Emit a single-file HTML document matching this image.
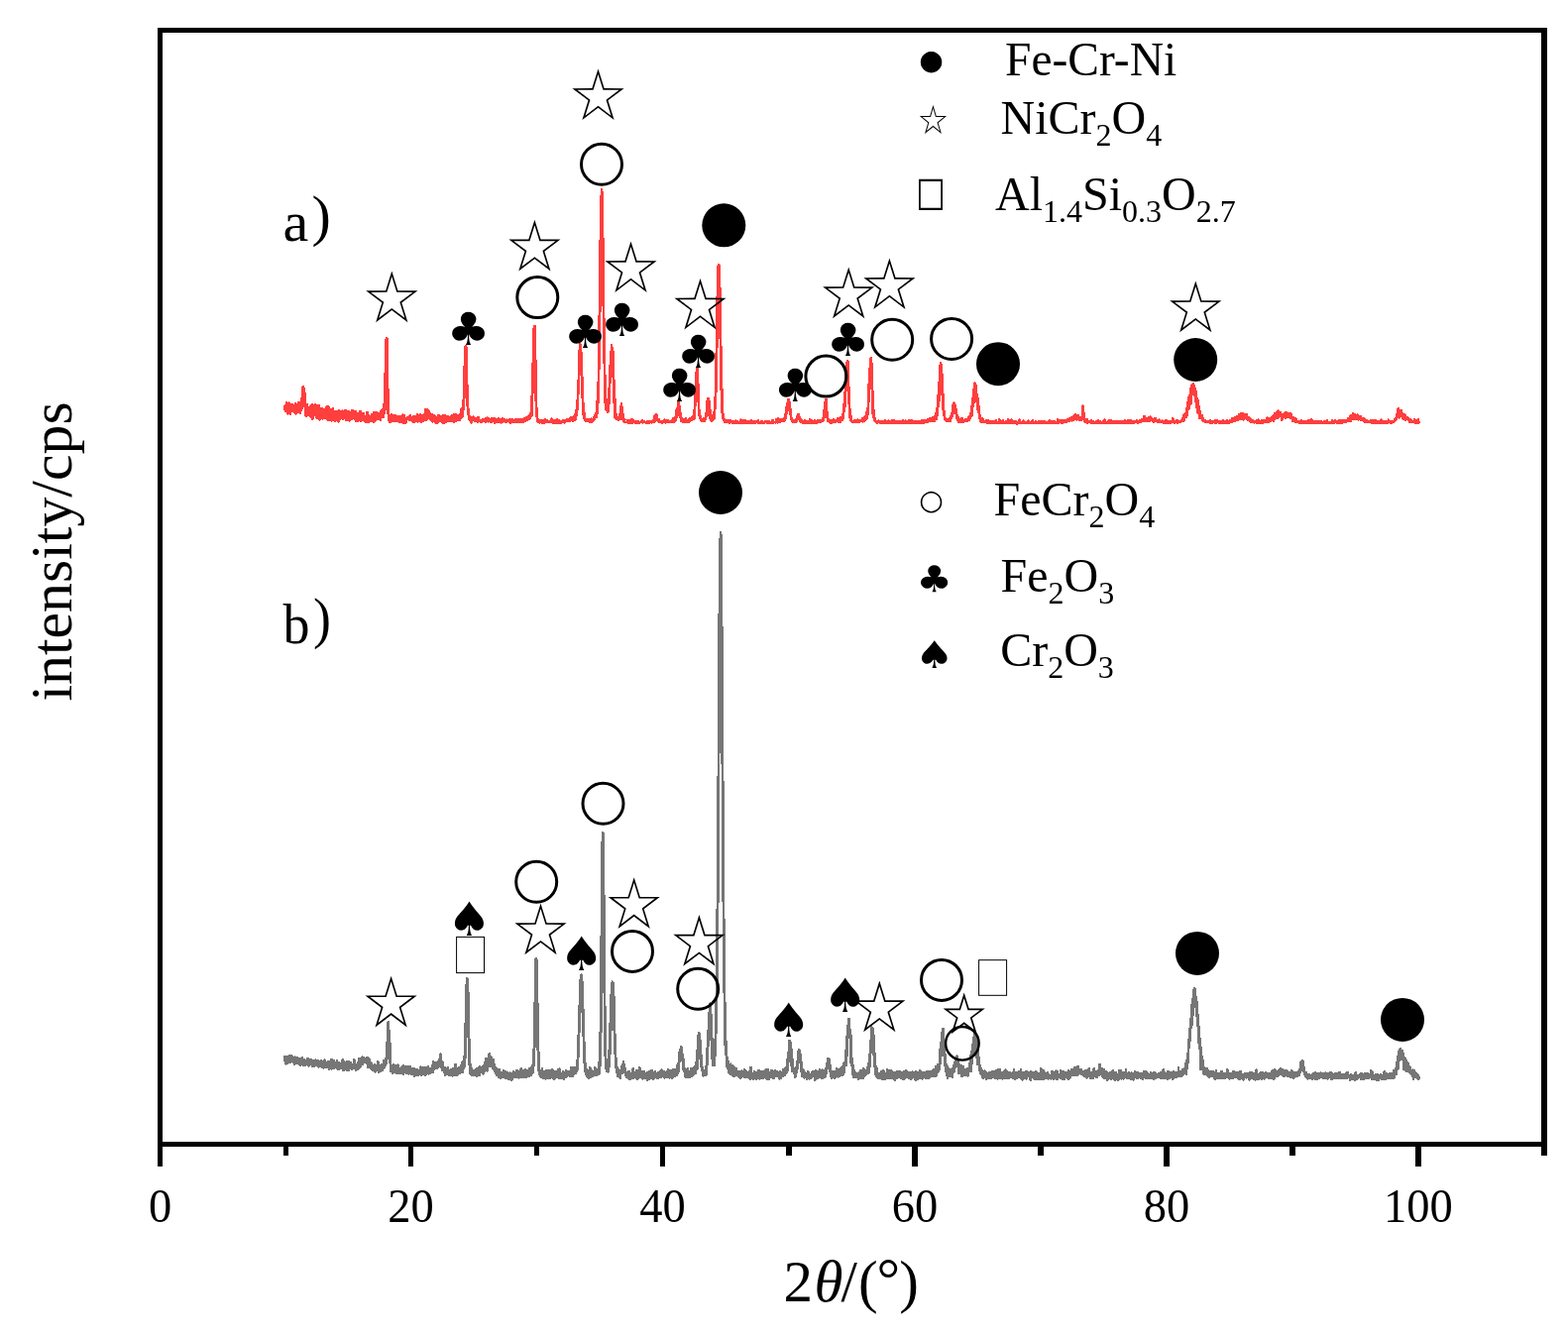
<!DOCTYPE html>
<html lang="en"><head><meta charset="utf-8"><title>XRD patterns</title>
<style>html,body{margin:0;padding:0;background:#fff;overflow:hidden}svg{display:block}text{font-family:"Liberation Serif","DejaVu Serif",serif;fill:#000}.sym{font-family:"DejaVu Sans","Liberation Sans",sans-serif}</style></head><body>
<svg width="1582" height="1348" viewBox="0 0 1582 1348">
<rect x="0" y="0" width="1582" height="1348" fill="#fff"/>
<path d="M287.5,409.8 288,410.4 288.5,409.1 289,406.2 289.5,409.3 290,408 290.5,409.8 291,409.8 291.5,406.5 292,406.5 292.5,411.9 293,411.4 293.5,409.3 294,413 294.5,407.7 295,407.7 295.5,409.8 296,409 296.5,411.5 297,410.6 297.5,410.1 298,406.6 298.5,411.9 299,407.6 299.5,409.5 300,409.5 300.5,408.8 301,408.3 301.5,405.8 302,405.8 302.5,405.8 303,407.7 303.5,407.7 304,405.6 304.5,402.3 305,398.6 305.5,390.4 306,390.4 306.5,391.2 307,394.9 307.5,396.8 308,408 308.5,409.5 309,413.4 309.5,408.2 310,408.2 310.5,412.5 311,412.5 311.5,411 312,411.8 312.5,411.8 313,410.9 313.5,409.2 314,409.9 314.5,408 315,408 315.5,413.6 316,409.4 316.5,409.4 317,416.2 317.5,408 318,408 318.5,408.9 319,408.9 319.5,413.4 320,415.4 320.5,408.7 321,408.6 321.5,408.6 322,414.3 322.5,416.1 323,414.2 323.5,411.8 324,411.8 324.5,413 325,412.2 325.5,413.2 326,412.8 326.5,412.8 327,414.3 327.5,413.2 328,413.2 328.5,413.1 329,411.9 329.5,410.4 330,410.4 330.5,409.6 331,409.6 331.5,410.9 332,410.9 332.5,413.8 333,413.4 333.5,413.4 334,418 334.5,415.9 335,414.8 335.5,412.1 336,412.1 336.5,414.3 337,415.3 337.5,415.3 338,415.8 338.5,415.8 339,415.3 339.5,415.3 340,414.8 340.5,414.8 341,415.5 341.5,415.5 342,414.3 342.5,414 343,417 343.5,415.8 344,415.8 344.5,417.3 345,417.5 345.5,414.5 346,418.6 346.5,417.3 347,417.3 347.5,417.4 348,416.3 348.5,413.8 349,413.8 349.5,417.9 350,416.1 350.5,415.1 351,415 351.5,415 352,415.1 352.5,415.1 353,415.5 353.5,419.4 354,417.2 354.5,417.1 355,415.4 355.5,413.6 356,413.6 356.5,413.9 357,416.3 357.5,416.9 358,414.8 358.5,414.8 359,420 359.5,418 360,418 360.5,418.6 361,418.6 361.5,416.9 362,416.9 362.5,419.1 363,418.2 363.5,414.8 364,417.6 364.5,418 365,417 365.5,419.2 366,420.2 366.5,416.7 367,417.9 367.5,420.7 368,420.7 368.5,421.5 369,422.1 369.5,420.2 370,415.6 370.5,415.6 371,421.2 371.5,419 372,419 372.5,420.2 373,420.2 373.5,422.2 374,421.8 374.5,420.8 375,418.9 375.5,417.8 376,419 376.5,419.8 377,416 377.5,420 378,416.5 378.5,416.5 379,418.8 379.5,416.4 380,416.4 380.5,416.6 381,416.6 381.5,418 382,418 382.5,419.2 383,417.1 383.5,418.3 384,418.3 384.5,413.9 385,413.9 385.5,416.5 386,413 386.5,413 387,412.4 387.5,408.7 388,403.5 388.5,383.2 389,354.4 389.5,342 390,341.1 390.5,341.1 391,371 391.5,396.6 392,411.8 392.5,421 393,420.7 393.5,419.5 394,419.5 394.5,419.4 395,418.2 395.5,418.2 396,421.4 396.5,419.9 397,419.5 397.5,420.1 398,420.1 398.5,419 399,419 399.5,419.7 400,421.1 400.5,421.7 401,421.6 401.5,421.6 402,420.1 402.5,420.1 403,420.6 403.5,420.1 404,419.8 404.5,419.9 405,420.5 405.5,419.6 406,419.6 406.5,418.3 407,420.7 407.5,419.9 408,419.1 408.5,421.7 409,421.7 409.5,421.6 410,421.6 410.5,421.6 411,421.5 411.5,421 412,420.8 412.5,420.8 413,420.4 413.5,420.4 414,419.2 414.5,420.3 415,421.6 415.5,422.2 416,422.7 416.5,420.2 417,420.2 417.5,423.6 418,421.1 418.5,421.1 419,420.2 419.5,420.2 420,420.9 420.5,419.9 421,418.2 421.5,418.2 422,423.6 422.5,421.3 423,420.1 423.5,420.1 424,417.9 424.5,419.2 425,419.2 425.5,421.9 426,419.3 426.5,420 427,420 427.5,420.1 428,417.6 428.5,417.6 429,415.5 429.5,412.7 430,412.7 430.5,412.8 431,413.2 431.5,413.2 432,415 432.5,414.3 433,416.5 433.5,416.5 434,419.8 434.5,416.9 435,419.8 435.5,418.1 436,418.1 436.5,420.6 437,420.3 437.5,418.8 438,418.8 438.5,421.7 439,420.3 439.5,420.3 440,420.8 440.5,420.8 441,420.5 441.5,420.5 442,420.3 442.5,418.8 443,418.8 443.5,420.3 444,420.1 444.5,420.1 445,421.4 445.5,422.3 446,422.5 446.5,419.2 447,419.2 447.5,421.7 448,422 448.5,422 449,419 449.5,422.4 450,422.4 450.5,420.4 451,420.4 451.5,419.9 452,419.9 452.5,422 453,422.5 453.5,421.5 454,421.2 454.5,421.2 455,420.3 455.5,420.2 456,418.9 456.5,418.9 457,418.5 457.5,418.2 458,418.4 458.5,420.3 459,420.4 459.5,422.4 460,417.8 460.5,419 461,419.2 461.5,419.2 462,420.5 462.5,419.2 463,419.2 463.5,420 464,418.9 464.5,417.9 465,416.9 465.5,412.6 466,411.8 466.5,411.8 467,410.8 467.5,408.7 468,385.6 468.5,372.1 469,358.4 469.5,349 470,349 470.5,350.4 471,368.3 471.5,392 472,406.3 472.5,413.1 473,418.4 473.5,419.7 474,420.8 474.5,420.8 475,421.4 475.5,422.7 476,422.7 476.5,421.8 477,421.3 477.5,420.5 478,422 478.5,422.3 479,422.7 479.5,422.7 480,422.4 480.5,422.4 481,422.5 481.5,421.2 482,421.2 482.5,423.4 483,420.6 483.5,423.3 484,423.6 484.5,423.6 485,423.7 485.5,423.7 486,423.6 486.5,423.8 487,423.8 487.5,422.8 488,423.4 488.5,422.9 489,422.9 489.5,422.5 490,423.1 490.5,423.3 491,423 491.5,421.3 492,423.3 492.5,423.1 493,423.1 493.5,422.4 494,423 494.5,423.5 495,422.7 495.5,423.8 496,422 496.5,422 497,422.4 497.5,423.1 498,422.4 498.5,422.4 499,422.4 499.5,422.4 500,423.1 500.5,423.1 501,424.3 501.5,423.2 502,424.3 502.5,423.2 503,422.2 503.5,422.2 504,423.1 504.5,423.1 505,423.7 505.5,423.8 506,423.6 506.5,422.7 507,422.1 507.5,423.1 508,423.1 508.5,423 509,422.5 509.5,423.6 510,423.9 510.5,423.6 511,423.6 511.5,423.4 512,423.8 512.5,424.2 513,423.8 513.5,423.8 514,423.3 514.5,423.3 515,423.7 515.5,423.7 516,422.7 516.5,422.7 517,424.6 517.5,423.8 518,423.8 518.5,423.9 519,423.7 519.5,423.4 520,422.9 520.5,422.9 521,424.4 521.5,423.2 522,423.1 522.5,423.1 523,423 523.5,422.9 524,422.9 524.5,424.1 525,423.1 525.5,423.1 526,423.5 526.5,423.5 527,423.1 527.5,423.1 528,423.1 528.5,422.1 529,421.8 529.5,421.8 530,422.8 530.5,423.2 531,422.4 531.5,420.8 532,420.8 532.5,420.1 533,420.3 533.5,420.9 534,419 534.5,419 535,418.6 535.5,416.3 536,414.9 536.5,402.5 537,390 537.5,371.2 538,346.8 538.5,331.3 539,328.6 539.5,328.6 540,343.5 540.5,367.8 541,395 541.5,413.8 542,416.7 542.5,422.8 543,423.1 543.5,423.1 544,423.9 544.5,423.9 545,424.5 545.5,424.9 546,424.9 546.5,424.5 547,424.2 547.5,424.2 548,424.3 548.5,424.3 549,425.1 549.5,423.1 550,423.1 550.5,423.7 551,424.9 551.5,425.4 552,425.3 552.5,424.5 553,424.5 553.5,424.9 554,425.3 554.5,425 555,425.2 555.5,425.1 556,425.1 556.5,422.5 557,422.5 557.5,425.8 558,425.6 558.5,423.7 559,423.7 559.5,424.7 560,424.4 560.5,424.4 561,425.3 561.5,423.2 562,423.2 562.5,424.9 563,424.9 563.5,423.9 564,423.9 564.5,425.4 565,425.8 565.5,425 566,425 566.5,425.8 567,424.7 567.5,424.7 568,423.8 568.5,423.8 569,424.8 569.5,424.1 570,424.1 570.5,424.4 571,423.7 571.5,423.4 572,423.6 572.5,423 573,423.6 573.5,423.3 574,423.8 574.5,423.6 575,422.7 575.5,421.4 576,421.1 576.5,422.2 577,421.6 577.5,421.6 578,421.1 578.5,421.1 579,420.7 579.5,419.4 580,419.8 580.5,417.7 581,416 581.5,414.4 582,409 582.5,406 583,393.8 583.5,387.1 584,370.1 584.5,354.3 585,347.2 585.5,347.2 586,352.5 586.5,356 587,368.3 587.5,381.9 588,394.8 588.5,407.8 589,410.3 589.5,417.5 590,421 590.5,422.9 591,423.5 591.5,423.5 592,424.1 592.5,424.1 593,422.7 593.5,422.7 594,424 594.5,423.1 595,422.9 595.5,423 596,423.8 596.5,422.6 597,423.3 597.5,422.6 598,422.6 598.5,422.6 599,420.7 599.5,421.3 600,420.1 600.5,418.7 601,418.3 601.5,417.4 602,412.8 602.5,406.4 603,398 603.5,390.2 604,368.7 604.5,323.5 605,299.8 605.5,249.2 606,217.9 606.5,198.9 607,191 607.5,194.1 608,217.6 608.5,245 609,283.9 609.5,328.6 610,355.9 610.5,382.8 611,396.7 611.5,403.4 612,406.2 612.5,406.2 613,410.1 613.5,404.2 614,400.2 614.5,393 615,384.1 615.5,368.5 616,366.2 616.5,355.2 617,348.2 617.5,350.3 618,354.5 618.5,354.5 619,370 619.5,385.8 620,395.1 620.5,403.1 621,412 621.5,418.3 622,420.2 622.5,421.2 623,421.2 623.5,421.4 624,421.4 624.5,421.8 625,421.4 625.5,418 626,412.5 626.5,410 627,406.9 627.5,411 628,412.2 628.5,417.9 629,420.7 629.5,422.6 630,422.6 630.5,425.7 631,424.4 631.5,424.5 632,424.5 632.5,425.7 633,425.6 633.5,423.6 634,423.6 634.5,425.8 635,424.9 635.5,424.9 636,425.3 636.5,423.5 637,422.9 637.5,422.9 638,424.5 638.5,425.7 639,425.3 639.5,424.5 640,424.5 640.5,425.5 641,425.2 641.5,425.2 642,425.5 642.5,425.5 643,424.7 643.5,424.7 644,426 644.5,426 645,426 645.5,425.8 646,425.5 646.5,425.4 647,425.3 647.5,425 648,423.7 648.5,425.9 649,425.1 649.5,425.1 650,425.4 650.5,425.5 651,425.6 651.5,425.7 652,425.6 652.5,425.3 653,425.8 653.5,425.3 654,425.3 654.5,425.9 655,424.9 655.5,424.9 656,425.7 656.5,425.6 657,425.5 657.5,425.3 658,425.1 658.5,424.3 659,424.5 659.5,423.4 660,421.1 660.5,419.4 661,419.4 661.5,418.6 662,417.6 662.5,419.2 663,419.2 663.5,422.4 664,423.6 664.5,423.4 665,423.4 665.5,424.7 666,424.7 666.5,424.7 667,425.3 667.5,425.3 668,425.7 668.5,425.6 669,424.7 669.5,424.7 670,425.1 670.5,423 671,425.6 671.5,425.7 672,425.7 672.5,424.2 673,424.2 673.5,424 674,424 674.5,424.4 675,424.8 675.5,424.8 676,424.6 676.5,424.6 677,424.6 677.5,424.6 678,424.8 678.5,424 679,422.2 679.5,422.2 680,424.6 680.5,423.2 681,423.2 681.5,420.9 682,419.5 682.5,413.5 683,412.8 683.5,412.1 684,406.8 684.5,405.8 685,405.8 685.5,409.5 686,415.7 686.5,415.9 687,419.4 687.5,422.9 688,423.3 688.5,422.5 689,424.8 689.5,423.3 690,423.3 690.5,425.3 691,425 691.5,425 692,422.1 692.5,425.1 693,424.2 693.5,423.9 694,423.8 694.5,423.8 695,424 695.5,422.1 696,422.1 696.5,423.1 697,423.1 697.5,422.1 698,421.5 698.5,420.6 699,420 699.5,419.6 700,417.3 700.5,415.1 701,405.2 701.5,395 702,383.5 702.5,376.2 703,371.5 703.5,371.5 704,373.7 704.5,389.3 705,398.5 705.5,415.8 706,417.1 706.5,419.9 707,421.4 707.5,423.6 708,422.8 708.5,423.2 709,423.7 709.5,423.4 710,422.8 710.5,421.8 711,422.3 711.5,421.9 712,418.6 712.5,417.6 713,410.6 713.5,404.3 714,401.9 714.5,401.8 715,401.8 715.5,404.8 716,404.8 716.5,414.6 717,418.8 717.5,418.8 718,422 718.5,422 719,422 719.5,420.7 720,418.8 720.5,417 721,408.7 721.5,402.8 722,390.8 722.5,360.9 723,341.7 723.5,303.9 724,283 724.5,268.5 725,267.3 725.5,267.3 726,272.6 726.5,293.6 727,332.2 727.5,352.2 728,379.1 728.5,394.4 729,414.3 729.5,417.5 730,419.4 730.5,422.4 731,424 731.5,424.1 732,424.4 732.5,423.8 733,423.8 733.5,425.6 734,424.1 734.5,425.3 735,425.3 735.5,425.6 736,423.8 736.5,423.8 737,425.5 737.5,425.6 738,425.6 738.5,425.8 739,424.7 739.5,424.7 740,425 740.5,425 741,424.9 741.5,424.9 742,425.1 742.5,425.6 743,424.5 743.5,425.1 744,425.4 744.5,425.4 745,425.8 745.5,425.8 746,426.1 746.5,425.7 747,425.7 747.5,423.2 748,425.8 748.5,425 749,424.5 749.5,424.5 750,426 750.5,425.8 751,425.8 751.5,423.7 752,425.1 752.5,425.1 753,425.6 753.5,426.1 754,424.9 754.5,425.3 755,425.3 755.5,426 756,425.1 756.5,425.1 757,424.9 757.5,424.3 758,424.3 758.5,425 759,425 759.5,425.6 760,425.2 760.5,425.2 761,424.8 761.5,424.8 762,426.1 762.5,425.8 763,425.2 763.5,424.7 764,426 764.5,423.9 765,423.9 765.5,426.4 766,426 766.5,426.1 767,425.9 767.5,425.5 768,425.5 768.5,426.4 769,425.3 769.5,425.1 770,425.7 770.5,426.4 771,425.5 771.5,425.4 772,425.1 772.5,425.1 773,425.5 773.5,425.9 774,424.7 774.5,425.9 775,426.1 775.5,425.8 776,425 776.5,425 777,425.7 777.5,425.7 778,425.6 778.5,425.6 779,424.2 779.5,425.2 780,423.8 780.5,425.8 781,425.8 781.5,425.8 782,425.8 782.5,425.3 783,423.5 783.5,424.8 784,422.5 784.5,422.5 785,421.9 785.5,424.8 786,424.6 786.5,423.5 787,423.5 787.5,423.4 788,423.4 788.5,424.4 789,424.1 789.5,424.1 790,424.3 790.5,422.8 791,422.5 791.5,422.3 792,419 792.5,417.5 793,414 793.5,411 794,407.8 794.5,407.8 795,402.8 795.5,402.8 796,404.1 796.5,405.2 797,410.2 797.5,412.9 798,417 798.5,422 799,422 799.5,423.5 800,424.6 800.5,424.7 801,424.7 801.5,425.1 802,424.4 802.5,423.3 803,423.2 803.5,422.6 804,420.9 804.5,420 805,418 805.5,418 806,418.3 806.5,420.3 807,421.3 807.5,423.1 808,423.1 808.5,424.6 809,424.1 809.5,425.4 810,425.1 810.5,425.1 811,426 811.5,426 812,424.4 812.5,424.4 813,426 813.5,425.4 814,425.4 814.5,425.6 815,425.7 815.5,425 816,425 816.5,425.1 817,423.3 817.5,425.8 818,423.8 818.5,423.8 819,425.6 819.5,425.6 820,425.7 820.5,425.8 821,425.2 821.5,425.2 822,424.2 822.5,425.6 823,425.6 823.5,424.9 824,425.8 824.5,425.2 825,424.8 825.5,423.7 826,423.7 826.5,424.3 827,423.9 827.5,424.2 828,423.7 828.5,423.8 829,423.6 829.5,423.6 830,421.8 830.5,421.1 831,420.4 831.5,413.2 832,412.9 832.5,405.5 833,402.7 833.5,402.7 834,405.5 834.5,416.8 835,418.6 835.5,423.3 836,424.4 836.5,424.5 837,424.6 837.5,425.1 838,423.9 838.5,423.9 839,424.5 839.5,424.8 840,424.9 840.5,425 841,423.4 841.5,423.4 842,425 842.5,424.3 843,424.3 843.5,424.6 844,424 844.5,423.9 845,421.6 845.5,421.6 846,422 846.5,422 847,422.5 847.5,421.4 848,421.4 848.5,420.6 849,420.6 849.5,420.6 850,418.8 850.5,417.4 851,413.4 851.5,409.4 852,400.8 852.5,398.4 853,383.1 853.5,369.7 854,365.5 854.5,368.1 855,364.3 855.5,364.3 856,384.2 856.5,391.7 857,403.7 857.5,414.1 858,417.2 858.5,419.6 859,422.2 859.5,424.7 860,424.6 860.5,424.6 861,424.6 861.5,424.8 862,424.8 862.5,423.7 863,423.7 863.5,424.6 864,424.6 864.5,425.2 865,425.1 865.5,423.1 866,423.9 866.5,424.8 867,424.9 867.5,424.2 868,424.3 868.5,424.6 869,423.9 869.5,423.5 870,422.4 870.5,422.2 871,422.7 871.5,422.5 872,422.3 872.5,420.7 873,421.6 873.5,419.2 874,419.2 874.5,415.8 875,413.6 875.5,413.6 876,402.7 876.5,388.1 877,383.3 877.5,372.7 878,367.6 878.5,360.9 879,360.9 879.5,366.8 880,378.8 880.5,397.6 881,407.3 881.5,413.8 882,420.6 882.5,421.7 883,423.5 883.5,425.1 884,425.7 884.5,424.6 885,424.6 885.5,425.4 886,425.1 886.5,424.6 887,425.5 887.5,425.6 888,425.8 888.5,426.2 889,425.1 889.5,425.1 890,425.9 890.5,425.9 891,424.7 891.5,424.7 892,425.8 892.5,424.7 893,423.9 893.5,424.9 894,424.9 894.5,425.4 895,425 895.5,425 896,425.9 896.5,424.5 897,425.5 897.5,425.2 898,425.2 898.5,425.1 899,426.1 899.5,425.4 900,425.4 900.5,423.9 901,425.4 901.5,424.3 902,424.3 902.5,425.3 903,425.6 903.5,425.4 904,425.4 904.5,426 905,426.2 905.5,425.4 906,425.7 906.5,425.7 907,425.5 907.5,424.8 908,424.8 908.5,425.7 909,425.6 909.5,425.8 910,425.8 910.5,424.4 911,424.4 911.5,425.3 912,425.3 912.5,425.4 913,426.1 913.5,424.2 914,425.8 914.5,426.1 915,425.4 915.5,425 916,425.4 916.5,424.5 917,424.5 917.5,424 918,425.1 918.5,426.1 919,423.9 919.5,423.9 920,425.5 920.5,424.7 921,424.7 921.5,425.5 922,425.5 922.5,425.6 923,425.6 923.5,425.4 924,425.4 924.5,425.2 925,424.9 925.5,426.1 926,425 926.5,425 927,424.6 927.5,424.6 928,425.7 928.5,425.7 929,425.4 929.5,424.3 930,424.3 930.5,425.6 931,425.6 931.5,425 932,423.9 932.5,423.9 933,424 933.5,425 934,425 934.5,425.1 935,424.3 935.5,424.2 936,424.2 936.5,422.8 937,422.8 937.5,424.1 938,422.8 938.5,421.8 939,421.8 939.5,422.5 940,422.7 940.5,421.3 941,421.3 941.5,422.2 942,421.9 942.5,421.9 943,421.9 943.5,419.7 944,419.7 944.5,416.6 945,413.2 945.5,412.2 946,408.4 946.5,400.5 947,391.9 947.5,389.4 948,370.5 948.5,368.4 949,366.3 949.5,367.3 950,370.1 950.5,379 951,390.4 951.5,398.2 952,410.3 952.5,414.7 953,416.4 953.5,421.6 954,422.7 954.5,422.7 955,423.1 955.5,423.7 956,423.5 956.5,422.7 957,423 957.5,422.2 958,422.2 958.5,423.8 959,420.1 959.5,420.1 960,417.7 960.5,417.3 961,413.9 961.5,408.6 962,407.7 962.5,406.5 963,407 963.5,408.3 964,410 964.5,412.9 965,413.7 965.5,418.9 966,418.9 966.5,420.3 967,423.2 967.5,423.2 968,423.3 968.5,423.3 969,424 969.5,424 970,424.4 970.5,421.8 971,423.3 971.5,423.3 972,424.1 972.5,423.9 973,423.9 973.5,424.2 974,423.4 974.5,423.5 975,423.2 975.5,422.9 976,422.8 976.5,422.8 977,421.4 977.5,420.6 978,420.4 978.5,420.3 979,416.8 979.5,416.9 980,415.1 980.5,410.6 981,402.5 981.5,402.5 982,394.4 982.5,392 983,391.7 983.5,386.4 984,387.4 984.5,388.5 985,391.5 985.5,397.7 986,399.1 986.5,402 987,402 987.5,410.5 988,413.8 988.5,419.3 989,419.3 989.5,421.6 990,423.7 990.5,423.4 991,422.5 991.5,422.5 992,425.2 992.5,424.9 993,425.6 993.5,425.8 994,424.8 994.5,424.8 995,424 995.5,425.3 996,425.3 996.5,425.3 997,424 997.5,424 998,424.9 998.5,424.9 999,425.5 999.5,425.5 1000,425.8 1000.5,426 1001,425.2 1001.5,425.1 1002,425.1 1002.5,425.4 1003,424.8 1003.5,424.8 1004,424.8 1004.5,424.2 1005,424.2 1005.5,426.4 1006,426.1 1006.5,426.1 1007,426.1 1007.5,426.1 1008,423.3 1008.5,423.3 1009,425.8 1009.5,425.2 1010,425.2 1010.5,425.7 1011,426 1011.5,425.9 1012,424.4 1012.5,425.6 1013,426.3 1013.5,426 1014,426.1 1014.5,425.2 1015,425.2 1015.5,426 1016,425.7 1016.5,426 1017,423 1017.5,423 1018,426.3 1018.5,426.2 1019,426 1019.5,426 1020,425.4 1020.5,423.3 1021,424.6 1021.5,424.9 1022,425.7 1022.5,425.7 1023,425.5 1023.5,424.6 1024,424.6 1024.5,425.4 1025,425.4 1025.5,426 1026,426 1026.5,426.3 1027,426 1027.5,425.7 1028,423.5 1028.5,423.5 1029,424.7 1029.5,426.1 1030,425.8 1030.5,425.8 1031,425.9 1031.5,425.8 1032,425.5 1032.5,424.5 1033,424.5 1033.5,425.7 1034,425.7 1034.5,425.7 1035,425.7 1035.5,425.7 1036,426.1 1036.5,426 1037,425 1037.5,424.5 1038,424.5 1038.5,425 1039,426.1 1039.5,425.7 1040,425.7 1040.5,426 1041,425 1041.5,425 1042,424.3 1042.5,425.5 1043,425.6 1043.5,426.3 1044,425.8 1044.5,425.4 1045,425.4 1045.5,425.5 1046,425.5 1046.5,425.9 1047,425.5 1047.5,425.5 1048,425.7 1048.5,425.6 1049,425.2 1049.5,425.2 1050,425.3 1050.5,425 1051,426.1 1051.5,424.8 1052,424.8 1052.5,425.6 1053,425.6 1053.5,425.1 1054,425.1 1054.5,425.1 1055,425.7 1055.5,425.8 1056,425.7 1056.5,425.9 1057,425.9 1057.5,426.2 1058,426.2 1058.5,424.4 1059,424.4 1059.5,425 1060,425.4 1060.5,425.6 1061,426.3 1061.5,425.2 1062,425.2 1062.5,426.4 1063,424.9 1063.5,425.1 1064,425.1 1064.5,425.1 1065,426 1065.5,426 1066,426.2 1066.5,426.2 1067,423.2 1067.5,423.2 1068,424.8 1068.5,424.8 1069,425 1069.5,423.9 1070,424.6 1070.5,425.5 1071,425.7 1071.5,424.4 1072,425.3 1072.5,424.2 1073,424.6 1073.5,424.6 1074,424.4 1074.5,424.4 1075,424.9 1075.5,424.1 1076,424.1 1076.5,424.8 1077,423 1077.5,423 1078,423 1078.5,423 1079,423.1 1079.5,421.9 1080,421.9 1080.5,422.1 1081,421.4 1081.5,422.3 1082,422.2 1082.5,420.8 1083,420.6 1083.5,420 1084,420 1084.5,418 1085,418 1085.5,419.6 1086,420.4 1086.5,419.9 1087,418.9 1087.5,418.9 1088,419.9 1088.5,421 1089,420.7 1089.5,420.7 1090,421.7 1090.5,421.9 1091,421.7 1091.5,421.4 1092,414.1 1092.5,409.5 1093,411.4 1093.5,417.1 1094,421.5 1094.5,422.5 1095,423 1095.5,423 1096,423.9 1096.5,423.3 1097,423.3 1097.5,424.5 1098,424.5 1098.5,424.9 1099,424.8 1099.5,424.8 1100,425.5 1100.5,424.1 1101,424.1 1101.5,425.2 1102,425.2 1102.5,425.7 1103,425.3 1103.5,425.3 1104,426.1 1104.5,425.8 1105,425.8 1105.5,425.9 1106,425.3 1106.5,425.3 1107,424.7 1107.5,425.2 1108,423.7 1108.5,426.2 1109,425.5 1109.5,425.1 1110,425.9 1110.5,425.6 1111,425.7 1111.5,425.6 1112,425.6 1112.5,425.9 1113,425.3 1113.5,425.3 1114,424.1 1114.5,423.5 1115,423.5 1115.5,426.4 1116,426 1116.5,425.6 1117,425.6 1117.5,426.2 1118,426.4 1118.5,424.4 1119,424.4 1119.5,424.5 1120,426.2 1120.5,426.3 1121,424.1 1121.5,425.2 1122,425.2 1122.5,425.2 1123,425.7 1123.5,424.9 1124,424.9 1124.5,426.1 1125,426.1 1125.5,424.7 1126,424.7 1126.5,424.8 1127,426 1127.5,425.8 1128,425.7 1128.5,425.8 1129,425.4 1129.5,425.4 1130,425.1 1130.5,424.8 1131,424.8 1131.5,425.7 1132,426.1 1132.5,426.1 1133,426.1 1133.5,424.8 1134,424.8 1134.5,426 1135,424.1 1135.5,425 1136,424.6 1136.5,424.6 1137,425.7 1137.5,424 1138,424 1138.5,425.7 1139,424.7 1139.5,424.7 1140,424 1140.5,423.8 1141,423.8 1141.5,425.5 1142,425.7 1142.5,424.6 1143,424.6 1143.5,425.3 1144,425.5 1144.5,425.5 1145,424.9 1145.5,425.2 1146,425.2 1146.5,425.8 1147,424.3 1147.5,424.3 1148,424.9 1148.5,424.9 1149,424.5 1149.5,424.5 1150,424.5 1150.5,424.3 1151,424.3 1151.5,424.3 1152,423.1 1152.5,423.1 1153,423.2 1153.5,423.1 1154,419.8 1154.5,419.8 1155,422.9 1155.5,422.3 1156,422.2 1156.5,421.8 1157,421.8 1157.5,422 1158,421.5 1158.5,421.5 1159,422.1 1159.5,421.6 1160,421.9 1160.5,420.5 1161,420.5 1161.5,422.8 1162,422.8 1162.5,422.6 1163,422.9 1163.5,423.1 1164,422.7 1164.5,422.7 1165,423.9 1165.5,421.6 1166,421.6 1166.5,424 1167,424.2 1167.5,424.4 1168,424.4 1168.5,424.6 1169,424.9 1169.5,425.2 1170,423.5 1170.5,424.9 1171,425 1171.5,425 1172,424.5 1172.5,424.5 1173,424.5 1173.5,424.9 1174,425.9 1174.5,425.3 1175,425.3 1175.5,426.1 1176,425 1176.5,423.8 1177,424.8 1177.5,424.7 1178,424.9 1178.5,424.9 1179,426.2 1179.5,425.5 1180,425.5 1180.5,425.7 1181,425.4 1181.5,425.4 1182,425.2 1182.5,425.2 1183,422.3 1183.5,422.3 1184,424 1184.5,424 1185,426.3 1185.5,425.8 1186,425.3 1186.5,424.4 1187,423.7 1187.5,423.7 1188,425.2 1188.5,425.2 1189,425.3 1189.5,425.3 1190,424.7 1190.5,424.7 1191,425 1191.5,424 1192,423.7 1192.5,424.2 1193,423.4 1193.5,421.7 1194,420.9 1194.5,418.8 1195,418.8 1195.5,417.8 1196,417.8 1196.5,417.1 1197,413.2 1197.5,411.4 1198,408.9 1198.5,405.6 1199,405.6 1199.5,400.1 1200,399.2 1200.5,399.2 1201,397.5 1201.5,391.2 1202,391.2 1202.5,388 1203,388 1203.5,388.2 1204,387.1 1204.5,388.3 1205,390 1205.5,392 1206,392.7 1206.5,394.2 1207,399.8 1207.5,401.6 1208,403 1208.5,403 1209,409.9 1209.5,409.9 1210,410.1 1210.5,414.5 1211,417.2 1211.5,419.2 1212,418.7 1212.5,418.7 1213,421.6 1213.5,421.6 1214,421.6 1214.5,423.3 1215,423.9 1215.5,423.6 1216,423.6 1216.5,424.8 1217,424.9 1217.5,424.9 1218,425.1 1218.5,424.9 1219,424.9 1219.5,425.5 1220,425.8 1220.5,424.8 1221,423.7 1221.5,424.7 1222,425.3 1222.5,425.3 1223,425.7 1223.5,425.6 1224,424.6 1224.5,424.6 1225,425.2 1225.5,424 1226,424.5 1226.5,425.4 1227,425.4 1227.5,425.8 1228,424.3 1228.5,424.3 1229,425 1229.5,424.9 1230,426 1230.5,426 1231,425 1231.5,425 1232,424.6 1232.5,424.6 1233,425.2 1233.5,425.9 1234,424 1234.5,424 1235,424.9 1235.5,424.9 1236,425.6 1236.5,425.9 1237,425.9 1237.5,425.5 1238,424.3 1238.5,424.3 1239,424.5 1239.5,425.9 1240,425.3 1240.5,425.3 1241,424.1 1241.5,424.1 1242,424.5 1242.5,424.1 1243,421.6 1243.5,424 1244,424 1244.5,424.3 1245,421.5 1245.5,421.5 1246,422.6 1246.5,421.5 1247,421.5 1247.5,421.7 1248,420.3 1248.5,420.3 1249,420.6 1249.5,420 1250,418.3 1250.5,418.3 1251,418.4 1251.5,418.1 1252,416.7 1252.5,417.3 1253,417.1 1253.5,417.3 1254,417.3 1254.5,417.4 1255,418.1 1255.5,417.7 1256,418.2 1256.5,418.2 1257,419.4 1257.5,418.3 1258,418.3 1258.5,421.5 1259,422 1259.5,422 1260,421 1260.5,421 1261,422.3 1261.5,422.3 1262,423 1262.5,423 1263,424.3 1263.5,424.3 1264,424.5 1264.5,424.5 1265,424.7 1265.5,424.7 1266,425.4 1266.5,425.4 1267,425.1 1267.5,425.4 1268,423.8 1268.5,424.3 1269,424.3 1269.5,423.3 1270,425.8 1270.5,425.4 1271,425.4 1271.5,425.6 1272,425.6 1272.5,424.6 1273,424.6 1273.5,423.7 1274,423.7 1274.5,424.6 1275,425.4 1275.5,424.4 1276,424.3 1276.5,424.7 1277,425 1277.5,425.3 1278,424.9 1278.5,421.6 1279,423.3 1279.5,423.3 1280,424.2 1280.5,423.7 1281,421.6 1281.5,421.6 1282,423.4 1282.5,422 1283,420.8 1283.5,420.8 1284,420.4 1284.5,420.4 1285,419.4 1285.5,419.1 1286,418.4 1286.5,416.8 1287,416.8 1287.5,416.6 1288,416.2 1288.5,416.2 1289,416.2 1289.5,414.1 1290,414.9 1290.5,416.7 1291,416.7 1291.5,416 1292,416 1292.5,417.5 1293,417.5 1293.5,418 1294,417.7 1294.5,418 1295,418 1295.5,419.3 1296,418 1296.5,416.5 1297,418.2 1297.5,416.4 1298,416.4 1298.5,417.4 1299,419.8 1299.5,418.2 1300,416.8 1300.5,416.8 1301,417.4 1301.5,417.4 1302,417.3 1302.5,417.3 1303,420.3 1303.5,420.3 1304,420.8 1304.5,421.1 1305,421.1 1305.5,422.5 1306,423.4 1306.5,421.9 1307,422.5 1307.5,422.1 1308,423.8 1308.5,424.7 1309,424.7 1309.5,425.6 1310,425.1 1310.5,425.1 1311,425.2 1311.5,425.5 1312,425.5 1312.5,425.8 1313,424.4 1313.5,426.1 1314,425.8 1314.5,425.4 1315,425.7 1315.5,425 1316,425 1316.5,426.1 1317,425.7 1317.5,425.1 1318,425.1 1318.5,425.2 1319,425.8 1319.5,424.2 1320,424.2 1320.5,426.3 1321,424.9 1321.5,424.6 1322,424.6 1322.5,423.9 1323,423.1 1323.5,423.1 1324,425.8 1324.5,425.3 1325,425.3 1325.5,425.5 1326,425.5 1326.5,424.6 1327,424.6 1327.5,425.4 1328,425 1328.5,425 1329,425.4 1329.5,425.4 1330,425.4 1330.5,425.4 1331,424.7 1331.5,425 1332,425 1332.5,425.6 1333,425.5 1333.5,425.3 1334,425.9 1334.5,425.9 1335,425.8 1335.5,425.4 1336,425.5 1336.5,425.6 1337,425.6 1337.5,425.2 1338,425.2 1338.5,425.4 1339,424.1 1339.5,426.1 1340,425.5 1340.5,425.9 1341,425.9 1341.5,425.9 1342,425.7 1342.5,425.7 1343,425.6 1343.5,425.6 1344,424.4 1344.5,425.8 1345,425.8 1345.5,425.2 1346,425.2 1346.5,425.5 1347,424.4 1347.5,426 1348,426 1348.5,426 1349,425.1 1349.5,425.6 1350,425.1 1350.5,425.1 1351,424.5 1351.5,425.7 1352,425.7 1352.5,423.9 1353,423.9 1353.5,425.5 1354,426 1354.5,424.9 1355,424.4 1355.5,424.7 1356,424.5 1356.5,424.5 1357,424.7 1357.5,424.5 1358,423.8 1358.5,423.8 1359,423.8 1359.5,423.6 1360,421.9 1360.5,421.9 1361,422 1361.5,422 1362,420.3 1362.5,420.3 1363,419.2 1363.5,419.2 1364,419.3 1364.5,418.5 1365,417.1 1365.5,417.1 1366,419.1 1366.5,418.5 1367,418.3 1367.5,418.3 1368,418.9 1368.5,418.9 1369,419.6 1369.5,418.5 1370,418.5 1370.5,419.9 1371,419.7 1371.5,419.7 1372,421 1372.5,420.3 1373,420.3 1373.5,421.7 1374,421.8 1374.5,422.2 1375,422.4 1375.5,422.6 1376,423.3 1376.5,422.5 1377,423.1 1377.5,424.1 1378,424.1 1378.5,424.1 1379,424 1379.5,424 1380,425.1 1380.5,425.1 1381,424.9 1381.5,424.8 1382,424.8 1382.5,424.3 1383,425.8 1383.5,425.7 1384,425.4 1384.5,423.7 1385,424.8 1385.5,425.9 1386,425.6 1386.5,425.6 1387,423.6 1387.5,423.6 1388,424.9 1388.5,424.8 1389,425.2 1389.5,425 1390,425 1390.5,425.4 1391,425.4 1391.5,425.9 1392,425.6 1392.5,425.6 1393,425.5 1393.5,423.5 1394,426.2 1394.5,425.7 1395,425.3 1395.5,425.3 1396,426 1396.5,424.6 1397,424.6 1397.5,424.8 1398,425.7 1398.5,426 1399,425.1 1399.5,425.9 1400,424.6 1400.5,424.5 1401,423.5 1401.5,424.9 1402,425.1 1402.5,425.5 1403,424.6 1403.5,424.6 1404,425.3 1404.5,426.3 1405,425.7 1405.5,425 1406,424.9 1406.5,424.8 1407,423.4 1407.5,423.4 1408,422.1 1408.5,422.1 1409,419.6 1409.5,417.7 1410,415.8 1410.5,412.3 1411,412.3 1411.5,414.7 1412,416.5 1412.5,414 1413,414.2 1413.5,414 1414,414.2 1414.5,416.3 1415,417.3 1415.5,417.5 1416,417.8 1416.5,419.1 1417,418.2 1417.5,418.7 1418,418.7 1418.5,420.6 1419,421.2 1419.5,421.9 1420,422 1420.5,421.5 1421,421.5 1421.5,423.6 1422,423.6 1422.5,424.4 1423,423.6 1423.5,423 1424,424.9 1424.5,424.7 1425,424.7 1425.5,424.9 1426,425.1 1426.5,425.1 1427,425.1 1427.5,422.9 1428,425.9 1428.5,426.3 1429,426.4 1429.5,426.3 1430,425.3 1430.5,423 1431,423 1431.5,425.7 1431.5,426.4 1431,426.5 1430.5,426.5 1430,427.2 1429.5,426.8 1429,426.8 1428.5,427 1428,427 1427.5,426.3 1427,426.1 1426.5,426.2 1426,426.2 1425.5,426.4 1425,426.2 1424.5,426 1424,425.9 1423.5,425.9 1423,425.2 1422.5,426 1422,426 1421.5,424.7 1421,424.2 1420.5,423.2 1420,423.3 1419.5,423.2 1419,423.3 1418.5,423.9 1418,423.9 1417.5,421.8 1417,423.1 1416.5,423.1 1416,422.6 1415.5,422.6 1415,421.1 1414.5,419.2 1414,419.5 1413.5,419.5 1413,415.9 1412.5,418.5 1412,418.5 1411.5,421.5 1411,420.9 1410.5,420.9 1410,418.4 1409.5,420.4 1409,423 1408.5,423.6 1408,424.1 1407.5,424.1 1407,425.5 1406.5,425.6 1406,426 1405.5,426 1405,426.5 1404.5,426.9 1404,426.9 1403.5,426.9 1403,426.3 1402.5,426.7 1402,426.5 1401.5,426.3 1401,426.3 1400.5,426.6 1400,426.8 1399.5,426.8 1399,426.8 1398.5,426.8 1398,426.8 1397.5,426.6 1397,426.3 1396.5,426.7 1396,426.7 1395.5,426.7 1395,426.8 1394.5,426.7 1394,426.7 1393.5,426.7 1393,426.6 1392.5,426.6 1392,426.9 1391.5,426.9 1391,427.3 1390.5,426.4 1390,426.6 1389.5,427 1389,427 1388.5,427 1388,426.9 1387.5,426.9 1387,426.8 1386.5,426.4 1386,426.6 1385.5,426.7 1385,426.7 1384.5,426.1 1384,426.7 1383.5,426.7 1383,426.2 1382.5,426.2 1382,426.2 1381.5,426.4 1381,426.1 1380.5,426.1 1380,426.2 1379.5,425.5 1379,425.3 1378.5,425.8 1378,425.8 1377.5,425.7 1377,425.7 1376.5,424.5 1376,424.9 1375.5,424.9 1375,423.8 1374.5,423.6 1374,423.5 1373.5,424 1373,424 1372.5,422.7 1372,422.7 1371.5,421.6 1371,423.4 1370.5,423.4 1370,421.7 1369.5,423 1369,423 1368.5,422.5 1368,422.5 1367.5,421.2 1367,422.7 1366.5,422.3 1366,422 1365.5,423 1365,423 1364.5,421.7 1364,422 1363.5,421.7 1363,425.2 1362.5,423.1 1362,423.1 1361.5,423.5 1361,423.8 1360.5,425.1 1360,425.1 1359.5,424.8 1359,425 1358.5,425.4 1358,425.4 1357.5,425.7 1357,425.7 1356.5,426.3 1356,426.3 1355.5,425.9 1355,426.2 1354.5,426.5 1354,426.6 1353.5,426.6 1353,426.2 1352.5,426.1 1352,427 1351.5,426.7 1351,426.4 1350.5,426.4 1350,426.6 1349.5,426.8 1349,426.8 1348.5,426.4 1348,426.4 1347.5,426.3 1347,426.5 1346.5,426.7 1346,426.7 1345.5,426.4 1345,427.1 1344.5,426.6 1344,426.4 1343.5,427 1343,426.5 1342.5,427 1342,427 1341.5,426.7 1341,427 1340.5,427 1340,426.9 1339.5,426.9 1339,426.4 1338.5,426.7 1338,426.7 1337.5,426.4 1337,426.1 1336.5,426.3 1336,426.6 1335.5,426 1335,426.5 1334.5,426.8 1334,426.8 1333.5,426.2 1333,426.6 1332.5,426.6 1332,426.5 1331.5,426.5 1331,426.7 1330.5,426.8 1330,426.8 1329.5,426.8 1329,427.1 1328.5,426.7 1328,427 1327.5,427 1327,426.7 1326.5,426.8 1326,426.3 1325.5,426.6 1325,426.9 1324.5,427 1324,426.7 1323.5,426.4 1323,426.4 1322.5,426.4 1322,427 1321.5,426.5 1321,426.9 1320.5,426.9 1320,426.6 1319.5,426.6 1319,426.6 1318.5,426.6 1318,426.1 1317.5,426.8 1317,426.8 1316.5,426.8 1316,426.6 1315.5,426.7 1315,426.7 1314.5,426.9 1314,426.9 1313.5,426.7 1313,426.5 1312.5,426.5 1312,426.4 1311.5,426.6 1311,426.6 1310.5,426.4 1310,426.3 1309.5,426.3 1309,425.8 1308.5,426 1308,425.8 1307.5,425.8 1307,425.4 1306.5,425.4 1306,425.5 1305.5,424.2 1305,424.2 1304.5,425.1 1304,425.1 1303.5,422 1303,421.4 1302.5,420.4 1302,421.9 1301.5,421.9 1301,420.5 1300.5,420.5 1300,420.1 1299.5,420.1 1299,420.8 1298.5,420.8 1298,419.1 1297.5,421.8 1297,421.8 1296.5,420.8 1296,420.5 1295.5,420.8 1295,420.8 1294.5,421.3 1294,421.3 1293.5,423.9 1293,423.9 1292.5,420.2 1292,419.4 1291.5,420.1 1291,418.6 1290.5,418.8 1290,418.8 1289.5,422.1 1289,422.1 1288.5,420 1288,420 1287.5,419.6 1287,422.4 1286.5,422.4 1286,423 1285.5,423 1285,424.6 1284.5,424.6 1284,423.1 1283.5,424 1283,423.8 1282.5,425 1282,425 1281.5,424.6 1281,424.6 1280.5,424.4 1280,425.6 1279.5,425.6 1279,426 1278.5,426.2 1278,426.2 1277.5,426.2 1277,425.9 1276.5,425.9 1276,426.2 1275.5,426.2 1275,426.1 1274.5,426.2 1274,426.8 1273.5,426.6 1273,426.3 1272.5,427.1 1272,427.1 1271.5,426.7 1271,426.7 1270.5,426.3 1270,426.5 1269.5,426.6 1269,426.6 1268.5,426.5 1268,426.5 1267.5,426.4 1267,426.3 1266.5,426 1266,426.5 1265.5,426.5 1265,425.9 1264.5,425.9 1264,425.6 1263.5,425.7 1263,425.2 1262.5,426 1262,426 1261.5,424.9 1261,425.2 1260.5,424.6 1260,424.3 1259.5,424.3 1259,423.1 1258.5,423.1 1258,423.1 1257.5,421.9 1257,422.2 1256.5,422 1256,421.4 1255.5,421 1255,420.9 1254.5,423.5 1254,423.5 1253.5,421.8 1253,420.8 1252.5,422.5 1252,422.5 1251.5,420.2 1251,423 1250.5,421.3 1250,420.5 1249.5,422.4 1249,424.1 1248.5,424.1 1248,423.3 1247.5,423.7 1247,423.7 1246.5,424.6 1246,424.6 1245.5,424.6 1245,425.2 1244.5,425.2 1244,425 1243.5,425.6 1243,425.7 1242.5,425.7 1242,425.3 1241.5,426.1 1241,426.5 1240.5,426.5 1240,426.4 1239.5,426.6 1239,426.7 1238.5,426.7 1238,426.4 1237.5,426.7 1237,427 1236.5,427 1236,426.5 1235.5,426.3 1235,426.1 1234.5,426.5 1234,426.1 1233.5,427.2 1233,426.3 1232.5,426.3 1232,426.6 1231.5,426.6 1231,426.7 1230.5,426.7 1230,426.5 1229.5,426.4 1229,426.2 1228.5,426.1 1228,426.4 1227.5,426.9 1227,426.4 1226.5,426.4 1226,426.8 1225.5,426.8 1225,426.2 1224.5,425.9 1224,426.2 1223.5,426.2 1223,426.7 1222.5,426.7 1222,426.7 1221.5,426.7 1221,426.7 1220.5,426.6 1220,426.2 1219.5,426.1 1219,426.3 1218.5,426.3 1218,426.2 1217.5,425.8 1217,425.8 1216.5,426 1216,426 1215.5,425.5 1215,425.4 1214.5,424.8 1214,424.8 1213.5,424.3 1213,424.3 1212.5,422.1 1212,421.8 1211.5,421.8 1211,422.4 1210.5,422.4 1210,416.7 1209.5,416.6 1209,417 1208.5,417 1208,409.3 1207.5,407.1 1207,411.1 1206.5,404.8 1206,400.5 1205.5,398 1205,398.7 1204.5,398.7 1204,395.4 1203.5,396.1 1203,396.8 1202.5,396.4 1202,399.8 1201.5,407.8 1201,407.8 1200.5,405.2 1200,408.9 1199.5,412.7 1199,412.8 1198.5,412.6 1198,418.3 1197.5,420 1197,420.9 1196.5,419.5 1196,419.5 1195.5,419.5 1195,422.8 1194.5,424.9 1194,424.9 1193.5,424.3 1193,424.5 1192.5,424.8 1192,424.4 1191.5,425.9 1191,425.7 1190.5,425.7 1190,426.1 1189.5,426.1 1189,426.2 1188.5,426.6 1188,426.6 1187.5,426.2 1187,426.2 1186.5,426.3 1186,426.4 1185.5,426.7 1185,426.7 1184.5,426.5 1184,426.3 1183.5,426.3 1183,426.3 1182.5,426 1182,426.1 1181.5,426.1 1181,426.8 1180.5,426.8 1180,426.4 1179.5,426.4 1179,426.8 1178.5,426.8 1178,426.5 1177.5,426.5 1177,426.1 1176.5,427.1 1176,427.1 1175.5,426.9 1175,426.6 1174.5,426.5 1174,426.5 1173.5,426.5 1173,426.3 1172.5,426.1 1172,426.2 1171.5,426.2 1171,426.1 1170.5,426.2 1170,426.2 1169.5,426 1169,425.8 1168.5,425.8 1168,425.5 1167.5,425.5 1167,425.1 1166.5,425.1 1166,425 1165.5,424.9 1165,424.6 1164.5,424.7 1164,425.8 1163.5,425.8 1163,424.9 1162.5,424.1 1162,424.1 1161.5,424 1161,423.9 1160.5,424.7 1160,423.2 1159.5,422.3 1159,424.8 1158.5,424.8 1158,424.6 1157.5,423.8 1157,423.6 1156.5,425.3 1156,425.3 1155.5,424 1155,424 1154.5,423.9 1154,424.2 1153.5,425.2 1153,425 1152.5,425 1152,425.1 1151.5,425.1 1151,425.7 1150.5,425.1 1150,425.2 1149.5,425.7 1149,425.7 1148.5,426.3 1148,426.6 1147.5,426.3 1147,426.4 1146.5,426.4 1146,426.3 1145.5,426.3 1145,426.4 1144.5,426.4 1144,426.6 1143.5,426.6 1143,426.2 1142.5,426.6 1142,426.5 1141.5,426.5 1141,426.7 1140.5,426.6 1140,426.5 1139.5,426.4 1139,426.5 1138.5,426.5 1138,426.5 1137.5,426.5 1137,426.8 1136.5,426.4 1136,426.4 1135.5,426.5 1135,426.5 1134.5,426.8 1134,426.9 1133.5,426.9 1133,426.5 1132.5,426.9 1132,426.9 1131.5,426.8 1131,426.8 1130.5,426.1 1130,426.8 1129.5,426.8 1129,426.8 1128.5,426.8 1128,426.4 1127.5,427.2 1127,427.2 1126.5,426.5 1126,426.5 1125.5,426.7 1125,426.7 1124.5,426.7 1124,426.7 1123.5,426.6 1123,426.7 1122.5,426.4 1122,426.5 1121.5,426.7 1121,426.7 1120.5,426.8 1120,427 1119.5,427 1119,426.7 1118.5,426.5 1118,426.8 1117.5,427 1117,426.5 1116.5,426.5 1116,426.6 1115.5,427 1115,426.7 1114.5,426.6 1114,426.9 1113.5,426.3 1113,426.6 1112.5,426.6 1112,426.6 1111.5,426.6 1111,426.9 1110.5,427.1 1110,427.1 1109.5,426.8 1109,427.1 1108.5,427.1 1108,426.4 1107.5,426.3 1107,426.3 1106.5,426.6 1106,426.7 1105.5,426.7 1105,426.6 1104.5,426.6 1104,426.9 1103.5,426.9 1103,427 1102.5,427 1102,426.5 1101.5,426.5 1101,426.6 1100.5,426.6 1100,426.5 1099.5,426.2 1099,426.2 1098.5,426.1 1098,425.8 1097.5,426.6 1097,426.6 1096.5,425.4 1096,426.4 1095.5,425.5 1095,425.5 1094.5,425.8 1094,424.4 1093.5,422.3 1093,421 1092.5,421.4 1092,423.3 1091.5,424 1091,424 1090.5,423.6 1090,423.6 1089.5,424.2 1089,424 1088.5,424 1088,421.7 1087.5,421.2 1087,422.1 1086.5,423.7 1086,422.1 1085.5,422.1 1085,421.1 1084.5,421.7 1084,422.6 1083.5,422.8 1083,424.2 1082.5,424.2 1082,422.9 1081.5,424.5 1081,424.5 1080.5,424 1080,423.4 1079.5,424 1079,424.9 1078.5,424.9 1078,424.6 1077.5,424.6 1077,425.2 1076.5,425.6 1076,425.6 1075.5,426 1075,426 1074.5,426.3 1074,426 1073.5,426.1 1073,425.9 1072.5,426.6 1072,426.6 1071.5,426.5 1071,426.8 1070.5,426.8 1070,426.4 1069.5,426.4 1069,426 1068.5,426.9 1068,426.9 1067.5,426.5 1067,426.7 1066.5,426.8 1066,426.8 1065.5,426.6 1065,426.6 1064.5,426.6 1064,427 1063.5,426.9 1063,426.9 1062.5,426.9 1062,426.6 1061.5,426.7 1061,426.9 1060.5,426.9 1060,426.6 1059.5,426.4 1059,426.6 1058.5,426.7 1058,427.1 1057.5,426.5 1057,426.8 1056.5,426.8 1056,426.5 1055.5,426.5 1055,426.6 1054.5,426.4 1054,426.3 1053.5,426.5 1053,426.7 1052.5,426.7 1052,426.6 1051.5,426.6 1051,427 1050.5,427 1050,426.8 1049.5,426.8 1049,426.8 1048.5,426.8 1048,426.7 1047.5,426.3 1047,426.6 1046.5,426.9 1046,427.2 1045.5,426.4 1045,426.4 1044.5,426.5 1044,426.7 1043.5,426.9 1043,426.9 1042.5,426.6 1042,426.5 1041.5,426.5 1041,426.8 1040.5,426.8 1040,426.8 1039.5,427.2 1039,427.2 1038.5,426.9 1038,426.8 1037.5,426.5 1037,426.7 1036.5,426.7 1036,426.8 1035.5,426.8 1035,426.8 1034.5,426.5 1034,426.7 1033.5,426.5 1033,426.7 1032.5,426.2 1032,426.5 1031.5,426.5 1031,426.8 1030.5,426.8 1030,426.5 1029.5,427.1 1029,427.1 1028.5,426.6 1028,427 1027.5,427 1027,427.1 1026.5,427.4 1026,427.4 1025.5,427.4 1025,427.4 1024.5,427.1 1024,426.7 1023.5,426.7 1023,426.7 1022.5,426.7 1022,426.8 1021.5,426.8 1021,427 1020.5,427 1020,427 1019.5,426.9 1019,427.1 1018.5,427.1 1018,427.1 1017.5,427 1017,426.5 1016.5,426.9 1016,426.6 1015.5,426.7 1015,426.7 1014.5,426.5 1014,426.5 1013.5,426.3 1013,427.2 1012.5,427.2 1012,426.5 1011.5,426.6 1011,427.2 1010.5,427.2 1010,426.1 1009.5,427.1 1009,427.1 1008.5,426.6 1008,426.5 1007.5,426.9 1007,427 1006.5,427 1006,427.2 1005.5,427.1 1005,427.1 1004.5,425.9 1004,426.5 1003.5,426.7 1003,427.1 1002.5,427.1 1002,426.4 1001.5,426.4 1001,426.6 1000.5,426.9 1000,426.9 999.5,426.3 999,426.4 998.5,426.7 998,426 997.5,426.3 997,427 996.5,427 996,426.8 995.5,426.8 995,426.2 994.5,426.3 994,426.4 993.5,426.4 993,426.2 992.5,425.9 992,425.9 991.5,426.2 991,426.2 990.5,425.4 990,425.9 989.5,425.9 989,422.1 988.5,421.7 988,421.7 987.5,415.3 987,413.7 986.5,413.7 986,409.8 985.5,404.2 985,404.2 984.5,396.7 984,390.7 983.5,393.1 983,394.1 982.5,406.7 982,410.1 981.5,410.1 981,411.6 980.5,420.1 980,420.1 979.5,419.2 979,421.1 978.5,422.9 978,422.9 977.5,424.3 977,424.3 976.5,424.1 976,424.6 975.5,425.1 975,424.7 974.5,424.5 974,424.6 973.5,425.3 973,425.3 972.5,425.9 972,425.6 971.5,425.6 971,424.8 970.5,425.6 970,425.9 969.5,426 969,425.6 968.5,425.6 968,426.3 967.5,426.3 967,424.8 966.5,424.8 966,423.1 965.5,423 965,422.3 964.5,415.6 964,413.8 963.5,417.3 963,417.4 962.5,417.4 962,412.8 961.5,414.8 961,418.8 960.5,420.6 960,422 959.5,422.9 959,425.2 958.5,425.2 958,423.8 957.5,424.2 957,425 956.5,425 956,425.4 955.5,425.4 955,425 954.5,425 954,424 953.5,423.2 953,421.6 952.5,419.6 952,415.3 951.5,412.9 951,412.9 950.5,394 950,383 949.5,372.3 949,371.8 948.5,374.6 948,390.9 947.5,405 947,405 946.5,410.6 946,413.3 945.5,419.2 945,419.9 944.5,423.3 944,423.3 943.5,423.1 943,425.2 942.5,425.2 942,423 941.5,423.6 941,423.9 940.5,425.2 940,424.6 939.5,424.9 939,423.8 938.5,425.3 938,425.3 937.5,425.2 937,425.2 936.5,425.5 936,425.6 935.5,426 935,426 934.5,426.2 934,426.2 933.5,425.4 933,426.4 932.5,426.4 932,425.5 931.5,426.7 931,426.7 930.5,426.2 930,426.4 929.5,426.4 929,426.5 928.5,426.6 928,426.6 927.5,426.6 927,425.8 926.5,426.6 926,426.4 925.5,426.6 925,426.8 924.5,426.8 924,426.8 923.5,426.8 923,426.5 922.5,426.6 922,426.6 921.5,426.9 921,426.9 920.5,426.8 920,426.6 919.5,426.8 919,426.8 918.5,426.8 918,426.8 917.5,426.8 917,426.8 916.5,426.7 916,426.9 915.5,426.9 915,426.7 914.5,426.6 914,426.6 913.5,426.7 913,426.7 912.5,426.9 912,427.3 911.5,427.3 911,426.8 910.5,426.7 910,427.3 909.5,427.1 909,426.9 908.5,426.9 908,426.4 907.5,426.7 907,426.7 906.5,426.8 906,426.8 905.5,426.8 905,426.8 904.5,426.8 904,426.5 903.5,427.2 903,426.8 902.5,426.7 902,426.1 901.5,426.6 901,426.6 900.5,427 900,427 899.5,426.7 899,426.7 898.5,426.7 898,426.5 897.5,426.5 897,426.5 896.5,426.6 896,426.6 895.5,426.5 895,426.7 894.5,426.7 894,426.6 893.5,426.6 893,426.6 892.5,426.7 892,426.7 891.5,426.6 891,426.5 890.5,426.5 890,426.6 889.5,426.6 889,426.6 888.5,426.8 888,426.8 887.5,426.7 887,425.9 886.5,425.8 886,425.7 885.5,426.5 885,427 884.5,427 884,426.3 883.5,425.7 883,425.4 882.5,424.9 882,423.3 881.5,421.6 881,417.5 880.5,417.5 880,402 879.5,390 879,373 878.5,372.9 878,377.3 877.5,387.7 877,394.9 876.5,403.1 876,417.7 875.5,417.9 875,419.7 874.5,422.5 874,422.9 873.5,424 873,423.1 872.5,425.1 872,425.1 871.5,424.4 871,425.5 870.5,425.5 870,425 869.5,425 869,425.4 868.5,425.4 868,425.2 867.5,425.5 867,425.6 866.5,425.6 866,425.2 865.5,425.8 865,426.3 864.5,426.3 864,425.9 863.5,425.6 863,425.4 862.5,426.3 862,426.3 861.5,425.7 861,425.8 860.5,426.1 860,425.4 859.5,425.8 859,424.9 858.5,424.1 858,422.1 857.5,422.1 857,417.6 856.5,405.2 856,395.7 855.5,394.8 855,373.1 854.5,373.1 854,375.3 853.5,386.5 853,399.9 852.5,411.1 852,411.1 851.5,414.7 851,422.4 850.5,422.4 850,423.9 849.5,421.9 849,422.9 848.5,422.9 848,425.7 847.5,425.7 847,425 846.5,425.1 846,425.7 845.5,425.7 845,424.4 844.5,425.1 844,425.3 843.5,425.7 843,425.5 842.5,425.9 842,425.9 841.5,426.1 841,426 840.5,425.9 840,425.9 839.5,426.5 839,425.9 838.5,426.1 838,426.6 837.5,426.6 837,426.4 836.5,425.7 836,425.3 835.5,425.3 835,424.7 834.5,421.2 834,420 833.5,413.8 833,410.1 832.5,414.6 832,414.6 831.5,421.7 831,422.1 830.5,424.1 830,425 829.5,425.4 829,425.3 828.5,425.9 828,425.9 827.5,425.1 827,425.7 826.5,425.8 826,425.8 825.5,425.7 825,426.5 824.5,426.5 824,426.3 823.5,427 823,427 822.5,426.1 822,426.1 821.5,426.4 821,427 820.5,427 820,426.3 819.5,426.4 819,426.4 818.5,426.4 818,427 817.5,427 817,426.9 816.5,426.9 816,426.7 815.5,426.9 815,426.9 814.5,426.5 814,426.5 813.5,426.8 813,427.1 812.5,427.1 812,426.7 811.5,426.8 811,427 810.5,426.6 810,426.8 809.5,426.8 809,426.4 808.5,425.9 808,425.8 807.5,425.2 807,424.1 806.5,424.1 806,421.6 805.5,421.6 805,421.3 804.5,422.6 804,423.2 803.5,425.4 803,425.4 802.5,425.7 802,425.7 801.5,425.5 801,425.9 800.5,425.6 800,425.7 799.5,424.9 799,424.8 798.5,423.7 798,423 797.5,418.5 797,418.1 796.5,410.9 796,410.9 795.5,410.3 795,411.3 794.5,415.1 794,415.1 793.5,417.3 793,419.1 792.5,422.9 792,424.4 791.5,424.4 791,423.5 790.5,424.4 790,425.4 789.5,425 789,424.5 788.5,425.1 788,425.1 787.5,425.4 787,424.7 786.5,425.3 786,425.6 785.5,425.7 785,425.9 784.5,426.5 784,426.5 783.5,425.9 783,425.9 782.5,426.4 782,426.4 781.5,426.2 781,426.5 780.5,426.7 780,426.3 779.5,426.5 779,426.5 778.5,426.6 778,426.6 777.5,426.5 777,426.7 776.5,426.2 776,426.5 775.5,426.5 775,426.7 774.5,426.7 774,426.4 773.5,426.6 773,426.4 772.5,426 772,426.1 771.5,426.2 771,426.8 770.5,426.9 770,426.9 769.5,426.4 769,427.1 768.5,427.1 768,427 767.5,427 767,426.7 766.5,426.6 766,426.8 765.5,426.8 765,426.7 764.5,426.4 764,426.4 763.5,426.3 763,426.2 762.5,426.7 762,426.5 761.5,426.8 761,426.2 760.5,427.1 760,427.1 759.5,426.9 759,426.9 758.5,426.2 758,426.8 757.5,426.5 757,426.5 756.5,426.5 756,426.5 755.5,426.6 755,426.7 754.5,426.6 754,426.7 753.5,426.7 753,426.7 752.5,426.3 752,426.8 751.5,426.5 751,426.5 750.5,426.5 750,427 749.5,427 749,426.9 748.5,426.9 748,426.5 747.5,426.8 747,426.8 746.5,427.1 746,427.1 745.5,426.5 745,426.8 744.5,426.8 744,426.5 743.5,426.4 743,427.1 742.5,427.1 742,427.2 741.5,427.2 741,426.5 740.5,426.3 740,426.3 739.5,426.5 739,426.7 738.5,426.7 738,426.1 737.5,426.1 737,426.4 736.5,426.4 736,426.8 735.5,426.7 735,426.2 734.5,426.2 734,426.2 733.5,426.2 733,426.1 732.5,426.1 732,425.2 731.5,425.3 731,425.6 730.5,424.3 730,423.2 729.5,422.2 729,419 728.5,415.8 728,403.8 727.5,391.1 727,365.9 726.5,333.8 726,302.7 725.5,284 725,278 724.5,287.9 724,313.5 723.5,345.7 723,373.1 722.5,393.5 722,404.5 721.5,411.8 721,419.1 720.5,422.3 720,423.3 719.5,423.5 719,423.5 718.5,424.6 718,424.6 717.5,424.2 717,422.8 716.5,422.5 716,419.8 715.5,409.4 715,409.2 714.5,409.4 714,408.7 713.5,419.7 713,417.6 712.5,420.1 712,422.6 711.5,424 711,424.6 710.5,424.6 710,423.6 709.5,424.9 709,424.9 708.5,424.3 708,424.7 707.5,424.7 707,424.5 706.5,422 706,421.5 705.5,419.1 705,416.3 704.5,402.4 704,399.4 703.5,376.4 703,385.4 702.5,393.9 702,399.6 701.5,408.7 701,416.1 700.5,422.9 700,422.9 699.5,422.2 699,423 698.5,423.7 698,422.7 697.5,423.6 697,423.7 696.5,424.8 696,425.4 695.5,425.4 695,424.8 694.5,425.4 694,424.4 693.5,424.8 693,425.5 692.5,426.1 692,426 691.5,426 691,425.8 690.5,426.2 690,426.2 689.5,425.9 689,425.9 688.5,425.5 688,424.8 687.5,425.3 687,424.9 686.5,421.1 686,420.2 685.5,416.7 685,415 684.5,419.2 684,419.2 683.5,417.1 683,414.7 682.5,421.6 682,422.6 681.5,425.1 681,425.1 680.5,425 680,425.7 679.5,425.7 679,425.3 678.5,425.7 678,425.7 677.5,425.8 677,425.8 676.5,425.4 676,425.4 675.5,425.9 675,425.9 674.5,426 674,426.1 673.5,426.1 673,425.9 672.5,426.3 672,426.4 671.5,426.7 671,426.1 670.5,426.1 670,426.4 669.5,426.1 669,426.3 668.5,426.4 668,426.4 667.5,426.7 667,426.3 666.5,426.3 666,426.3 665.5,426.4 665,426.2 664.5,425.8 664,425.5 663.5,425 663,423.4 662.5,422.2 662,422.7 661.5,422.7 661,424.7 660.5,424.7 660,426.2 659.5,426.2 659,426.1 658.5,425.5 658,426.4 657.5,426.4 657,426.1 656.5,426.2 656,426.5 655.5,426.5 655,426.6 654.5,426.6 654,426.5 653.5,426.2 653,426.6 652.5,426.6 652,426.3 651.5,426.4 651,426.4 650.5,426.2 650,426.2 649.5,426.1 649,426.5 648.5,426.8 648,426.1 647.5,425.8 647,425.8 646.5,426 646,426.3 645.5,426.4 645,426.4 644.5,426.4 644,426.4 643.5,426.8 643,426.8 642.5,426.7 642,426.5 641.5,426.5 641,426.8 640.5,426.8 640,426.5 639.5,426.3 639,426.5 638.5,426.7 638,426.9 637.5,426.9 637,426.5 636.5,426.5 636,426.6 635.5,426.6 635,426.6 634.5,426.6 634,426.7 633.5,426.7 633,426.3 632.5,426.3 632,426.1 631.5,426 631,426 630.5,426.2 630,425.8 629.5,425.5 629,424.5 628.5,423.2 628,420.7 627.5,417.5 627,417.5 626.5,417.5 626,418.4 625.5,423.3 625,423.3 624.5,423.9 624,423.9 623.5,423.5 623,423.5 622.5,423.1 622,423 621.5,421.6 621,421.8 620.5,421.8 620,407 619.5,407 619,389.3 618.5,378.9 618,364.6 617.5,361.9 617,361.6 616.5,370.3 616,379.5 615.5,385.1 615,394.2 614.5,407.8 614,408 613.5,415.9 613,415.9 612.5,414.6 612,412 611.5,413.7 611,411.7 610.5,405.8 610,386.2 609.5,361.6 609,333.8 608.5,301.3 608,259.5 607.5,223.3 607,201.2 606.5,234.2 606,268 605.5,310.1 605,340.1 604.5,368.8 604,392 603.5,406.1 603,409.4 602.5,417.3 602,420.9 601.5,421.1 601,421.1 600.5,422 600,422.5 599.5,423.3 599,423.8 598.5,423.8 598,423.7 597.5,425.6 597,425.7 596.5,425.7 596,425.6 595.5,425 595,425 594.5,425.5 594,424.5 593.5,424.7 593,424.7 592.5,425.2 592,424.7 591.5,424.9 591,424.8 590.5,424.1 590,424.3 589.5,422 589,422 588.5,418.6 588,410.5 587.5,399.1 587,384.3 586.5,372.9 586,356.5 585.5,354.8 585,363.9 584.5,375.1 584,395.3 583.5,395.3 583,409.9 582.5,413.7 582,415.8 581.5,419 581,423.4 580.5,423.4 580,424 579.5,424 579,423.4 578.5,423.4 578,424.6 577.5,424.6 577,424.2 576.5,424.2 576,424.4 575.5,424.4 575,424.2 574.5,425.2 574,425.2 573.5,424.8 573,425.1 572.5,424 572,424.8 571.5,425 571,425.2 570.5,425.7 570,425.7 569.5,426.6 569,425.6 568.5,426 568,426.1 567.5,425.7 567,426.5 566.5,426.5 566,426.4 565.5,426.4 565,426.5 564.5,426.7 564,426.7 563.5,426.6 563,426.7 562.5,426.7 562,425.3 561.5,426.5 561,426.9 560.5,426.2 560,426.3 559.5,426.4 559,426.4 558.5,426.6 558,426.6 557.5,426.5 557,426.5 556.5,426.2 556,426.2 555.5,426.1 555,426.1 554.5,426 554,426.2 553.5,426.2 553,426.1 552.5,426.2 552,426.2 551.5,426.4 551,426.2 550.5,425.6 550,426.2 549.5,425.7 549,426.9 548.5,426 548,426.4 547.5,426.4 547,426.5 546.5,426.5 546,426.1 545.5,425.4 545,425.9 544.5,426.4 544,426.4 543.5,424.9 543,425.5 542.5,425.5 542,424.2 541.5,420.2 541,420.2 540.5,400 540,387.5 539.5,362 539,338.2 538.5,354.5 538,378 537.5,394.1 537,407.6 536.5,420.1 536,420.1 535.5,420.5 535,420.5 534.5,423.1 534,423 533.5,423 533,421.8 532.5,423.6 532,423.6 531.5,423.1 531,424.4 530.5,424.4 530,423.9 529.5,424.9 529,423.6 528.5,424 528,425.5 527.5,426.1 527,426.1 526.5,424.6 526,424.9 525.5,425.2 525,425.9 524.5,425.9 524,424.9 523.5,424.5 523,425.6 522.5,425.6 522,425.8 521.5,426.3 521,425.7 520.5,425.1 520,426 519.5,425.3 519,426.2 518.5,425.6 518,425.7 517.5,426.1 517,425.5 516.5,425.5 516,425.9 515.5,425.9 515,426.8 514.5,426.8 514,425.3 513.5,425 513,425.5 512.5,425 512,425.2 511.5,425.2 511,425.8 510.5,425.7 510,425.9 509.5,425.2 509,425.2 508.5,424.8 508,425.3 507.5,425.5 507,425.5 506.5,425.5 506,426.5 505.5,426.5 505,425.8 504.5,425.2 504,425.2 503.5,425.6 503,425.9 502.5,425.9 502,425.2 501.5,426.3 501,426.3 500.5,426.3 500,426.3 499.5,426.7 499,426.7 498.5,425.2 498,424.6 497.5,425 497,425.3 496.5,424.1 496,425.6 495.5,425.7 495,425.7 494.5,425.5 494,424.8 493.5,425 493,425 492.5,425.7 492,424.8 491.5,425.3 491,425.3 490.5,425.2 490,426 489.5,426 489,425.3 488.5,425.3 488,425 487.5,425 487,424.8 486.5,425.6 486,426.1 485.5,426.1 485,425.4 484.5,425.4 484,425 483.5,425.2 483,425.2 482.5,425.5 482,425.7 481.5,425 481,423.4 480.5,423.4 480,424.8 479.5,424.8 479,424.6 478.5,424 478,423.5 477.5,423.5 477,423.8 476.5,424.8 476,426.4 475.5,426.4 475,424.3 474.5,423.9 474,424.2 473.5,423.3 473,422.4 472.5,418.6 472,418.1 471.5,406.8 471,396.5 470.5,370.8 470,357.5 469.5,360.5 469,389.4 468.5,400.3 468,409.8 467.5,412.8 467,418.4 466.5,421.1 466,421.1 465.5,418.4 465,421.8 464.5,421.8 464,422.8 463.5,424.3 463,420.9 462.5,423.8 462,423.3 461.5,422.2 461,423.9 460.5,421.9 460,424.7 459.5,424.7 459,424.7 458.5,423.7 458,425.9 457.5,425.9 457,423.5 456.5,424.3 456,424.5 455.5,424.5 455,424.2 454.5,424.2 454,424.9 453.5,424.9 453,424.8 452.5,424.8 452,423.1 451.5,423.9 451,423.6 450.5,425.9 450,425.9 449.5,424.6 449,424.6 448.5,425.8 448,425.8 447.5,427.3 447,427.3 446.5,425.3 446,426 445.5,424.1 445,423.1 444.5,423.8 444,425.3 443.5,425.3 443,424.9 442.5,424.8 442,424.8 441.5,427.1 441,424.3 440.5,424.5 440,427 439.5,427 439,424.1 438.5,424.1 438,423.9 437.5,422.8 437,423.7 436.5,426 436,424.1 435.5,423.9 435,423.9 434.5,423 434,423 433.5,422.6 433,421.2 432.5,421.2 432,420.8 431.5,418.1 431,416.4 430.5,423.5 430,423.5 429.5,418.1 429,423.6 428.5,423.6 428,422.4 427.5,424.7 427,424.7 426.5,423.6 426,422.9 425.5,425.6 425,425.6 424.5,424.7 424,424.7 423.5,424.6 423,421.9 422.5,424.2 422,425.5 421.5,425.5 421,424.3 420.5,424.3 420,424.3 419.5,424.6 419,424.6 418.5,423.8 418,425.9 417.5,425.9 417,425.7 416.5,423.9 416,424.9 415.5,424.9 415,424.3 414.5,424.1 414,422.9 413.5,423.9 413,423.9 412.5,423.9 412,422.8 411.5,422.8 411,423.3 410.5,423.6 410,424.9 409.5,427 409,424.7 408.5,424.7 408,427 407.5,427 407,426.4 406.5,426.3 406,426.3 405.5,424.1 405,423.4 404.5,425.7 404,425.7 403.5,426.3 403,426.3 402.5,424 402,423.4 401.5,423.4 401,424.8 400.5,424.9 400,424.9 399.5,423.8 399,422.2 398.5,424.2 398,424.2 397.5,425.1 397,425.1 396.5,425.1 396,423.9 395.5,423.5 395,421.3 394.5,421.5 394,424.1 393.5,426.2 393,424.6 392.5,424.5 392,421.1 391.5,417 391,407.6 390.5,376.5 390,345 389.5,368.8 389,389.8 388.5,413.3 388,413.3 387.5,417.2 387,421.1 386.5,421.1 386,419.2 385.5,419.2 385,420.4 384.5,418.9 384,423.8 383.5,423.8 383,421.7 382.5,422.3 382,422.4 381.5,422.4 381,421.9 380.5,421.9 380,421 379.5,423.7 379,421.8 378.5,422.6 378,424.2 377.5,425.9 377,425.9 376.5,423.6 376,425.3 375.5,425.3 375,423.3 374.5,423.3 374,424.4 373.5,424.4 373,424.3 372.5,425.7 372,425.7 371.5,424.3 371,425.9 370.5,425.9 370,425 369.5,425.6 369,425.6 368.5,425.7 368,423 367.5,424.5 367,423.7 366.5,424.1 366,424.1 365.5,422.3 365,421.1 364.5,420.7 364,425.5 363.5,421.7 363,422.5 362.5,422.5 362,422.4 361.5,424.7 361,424.7 360.5,424 360,423.2 359.5,425.2 359,425.2 358.5,423 358,422.3 357.5,420.6 357,421.2 356.5,421.2 356,422.5 355.5,422.5 355,422.8 354.5,422.8 354,421.6 353.5,421.6 353,419.7 352.5,424.6 352,422 351.5,422 351,423.3 350.5,423.3 350,424.3 349.5,424.3 349,422.1 348.5,422.1 348,421.7 347.5,420.6 347,422.5 346.5,422.5 346,422.5 345.5,422.5 345,420.6 344.5,421.8 344,421.8 343.5,420.8 343,423.3 342.5,423.3 342,424.4 341.5,425.5 341,424.2 340.5,424.2 340,419.9 339.5,419.8 339,420.5 338.5,420.5 338,425.1 337.5,425.1 337,421 336.5,422.1 336,422.1 335.5,419.1 335,419.1 334.5,424.8 334,420.8 333.5,420.8 333,418.6 332.5,424.2 332,424.2 331.5,420.7 331,423.5 330.5,423.5 330,420.8 329.5,420.7 329,419.4 328.5,421.8 328,421.8 327.5,420.6 327,419.5 326.5,417.9 326,418.6 325.5,422.5 325,420.1 324.5,418.8 324,420.7 323.5,422 323,422 322.5,423.9 322,421.5 321.5,417.6 321,419.2 320.5,417.3 320,421.7 319.5,421.7 319,421.3 318.5,418.8 318,417 317.5,418.7 317,419.1 316.5,418.1 316,417.4 315.5,422.9 315,422.9 314.5,417.6 314,421.2 313.5,419.5 313,419.6 312.5,419.6 312,416.4 311.5,418.5 311,418.6 310.5,416.9 310,416.9 309.5,419.7 309,419.7 308.5,419.1 308,416.5 307.5,409.5 307,401.7 306.5,398.1 306,396.9 305.5,405.6 305,411.5 304.5,413 304,413 303.5,414.4 303,416.8 302.5,415.6 302,415.6 301.5,414.1 301,413.7 300.5,415.4 300,415.4 299.5,415.5 299,416.5 298.5,417.4 298,415.6 297.5,414.6 297,415.9 296.5,415.8 296,412.3 295.5,414.2 295,414.9 294.5,414.9 294,415.2 293.5,415.2 293,417.6 292.5,413.6 292,414.3 291.5,415.6 291,415.6 290.5,417.4 290,417.4 289.5,411.2 289,411.2 288.5,412 288,415.5 287.5,413.9Z" fill="#ff3e3e" stroke="#ff3e3e" stroke-width="2.2" stroke-linejoin="round" stroke-linecap="butt" shape-rendering="crispEdges"/>
<path d="M287.5,1065.8 288,1068.9 288.5,1065.9 289,1069.4 289.5,1065.8 290,1065.8 290.5,1066 291,1066 291.5,1066 292,1066.1 292.5,1064.8 293,1064.8 293.5,1066.5 294,1067.9 294.5,1065.5 295,1065.5 295.5,1066.5 296,1066.5 296.5,1068 297,1067.4 297.5,1066.6 298,1068.5 298.5,1069.6 299,1067.1 299.5,1067.1 300,1067.1 300.5,1067.3 301,1068.4 301.5,1068.4 302,1069.5 302.5,1069.5 303,1067.9 303.5,1067.9 304,1069.6 304.5,1068.3 305,1067 305.5,1069.8 306,1070.9 306.5,1070.9 307,1069.1 307.5,1069.1 308,1070.6 308.5,1070.6 309,1070.7 309.5,1069.5 310,1068.1 310.5,1068.1 311,1068.2 311.5,1068.2 312,1068.9 312.5,1068.7 313,1069.4 313.5,1069.4 314,1070.6 314.5,1069.4 315,1070 315.5,1071.8 316,1070.9 316.5,1070.9 317,1069.8 317.5,1072.4 318,1069.5 318.5,1069.5 319,1071.9 319.5,1070.1 320,1069.8 320.5,1069.7 321,1069.7 321.5,1070.3 322,1072.8 322.5,1072.4 323,1072.4 323.5,1073.7 324,1070.4 324.5,1070.4 325,1073.7 325.5,1073.2 326,1072.1 326.5,1072.6 327,1074.3 327.5,1069.5 328,1071.6 328.5,1071.6 329,1074.4 329.5,1074.8 330,1073.3 330.5,1072.6 331,1070.8 331.5,1070.8 332,1074.3 332.5,1073.4 333,1074.3 333.5,1071 334,1068.8 334.5,1068.8 335,1071.5 335.5,1071.5 336,1073.2 336.5,1070.4 337,1070.4 337.5,1072 338,1072 338.5,1072.7 339,1071.8 339.5,1071.8 340,1070.1 340.5,1072.8 341,1074.3 341.5,1071.7 342,1071.7 342.5,1073.3 343,1073.3 343.5,1073 344,1072.6 344.5,1074.1 345,1073.6 345.5,1069.1 346,1069.1 346.5,1071.4 347,1071.4 347.5,1073.4 348,1073.6 348.5,1072.5 349,1072.5 349.5,1071.5 350,1073.1 350.5,1074.1 351,1070.6 351.5,1070.6 352,1076.4 352.5,1073.8 353,1073.6 353.5,1072 354,1072 354.5,1073.2 355,1075.3 355.5,1073.9 356,1073.9 356.5,1074.1 357,1069.2 357.5,1069.2 358,1073.6 358.5,1073.6 359,1075.3 359.5,1075.3 360,1074.1 360.5,1074.4 361,1071.9 361.5,1074 362,1068.3 362.5,1068.3 363,1071.6 363.5,1068.2 364,1071.3 364.5,1070 365,1066.5 365.5,1066.5 366,1070.6 366.5,1066.7 367,1066.7 367.5,1068.4 368,1068.7 368.5,1068.7 369,1067.8 369.5,1067.6 370,1067.5 370.5,1066.8 371,1066.8 371.5,1070.1 372,1068.1 372.5,1068.3 373,1068.5 373.5,1072.8 374,1072.2 374.5,1072.2 375,1074.4 375.5,1075 376,1074.9 376.5,1074.9 377,1075.3 377.5,1075.8 378,1074.2 378.5,1076.4 379,1076.3 379.5,1075.6 380,1074.6 380.5,1074.6 381,1070.9 381.5,1070.9 382,1075.8 382.5,1076.8 383,1077.7 383.5,1075.4 384,1076.6 384.5,1076.2 385,1073.8 385.5,1073.8 386,1076.4 386.5,1075 387,1069.7 387.5,1070.1 388,1070.1 388.5,1072.4 389,1072.3 389.5,1068.1 390,1063.3 390.5,1055.1 391,1038.7 391.5,1031.1 392,1031.1 392.5,1040.5 393,1045.5 393.5,1053.6 394,1071.6 394.5,1074.7 395,1078.2 395.5,1078 396,1076 396.5,1076 397,1074.4 397.5,1074.4 398,1076.9 398.5,1074.8 399,1074.8 399.5,1077.3 400,1077.3 400.5,1078.3 401,1078.3 401.5,1074.6 402,1078.3 402.5,1080.9 403,1079.8 403.5,1077.8 404,1079.4 404.5,1077.4 405,1078.5 405.5,1078.5 406,1075.7 406.5,1075.7 407,1075 407.5,1075 408,1077.4 408.5,1076.9 409,1076 409.5,1076 410,1079.3 410.5,1076.4 411,1076.4 411.5,1077.1 412,1076 412.5,1076 413,1075.8 413.5,1075.8 414,1077.9 414.5,1079.8 415,1078.6 415.5,1077.8 416,1079.2 416.5,1079.2 417,1079.9 417.5,1079.5 418,1078.1 418.5,1078.1 419,1080.1 419.5,1080.1 420,1080.3 420.5,1081.1 421,1079.1 421.5,1080.8 422,1080.8 422.5,1080 423,1080 423.5,1080.4 424,1078.6 424.5,1076.1 425,1079.1 425.5,1077.8 426,1079.2 426.5,1077.6 427,1076.7 427.5,1076.7 428,1078.8 428.5,1076.6 429,1076.6 429.5,1078.2 430,1079.1 430.5,1077.1 431,1077.1 431.5,1076.6 432,1076.1 432.5,1079.8 433,1078.8 433.5,1077.9 434,1078 434.5,1078 435,1077.8 435.5,1077.8 436,1079.8 436.5,1075.3 437,1071.2 437.5,1071.2 438,1074.5 438.5,1072.6 439,1072 439.5,1076.1 440,1072.8 440.5,1072.1 441,1072 441.5,1072.9 442,1071 442.5,1072.4 443,1070.5 443.5,1068.7 444,1065.9 444.5,1063.4 445,1065.7 445.5,1070.8 446,1072.3 446.5,1072.2 447,1072.2 447.5,1078 448,1078 448.5,1076.8 449,1078.4 449.5,1078.5 450,1078.3 450.5,1078.3 451,1079.4 451.5,1077 452,1077 452.5,1079.5 453,1079.7 453.5,1082.4 454,1081.2 454.5,1079.4 455,1079.4 455.5,1080.3 456,1081.7 456.5,1079 457,1078.2 457.5,1079.6 458,1081.4 458.5,1080.3 459,1078.4 459.5,1073.8 460,1073.8 460.5,1078.8 461,1078.8 461.5,1079.3 462,1077.5 462.5,1077.5 463,1079.4 463.5,1079.8 464,1077 464.5,1077 465,1074.5 465.5,1074.5 466,1073.8 466.5,1071.4 467,1071.4 467.5,1074.8 468,1072.6 468.5,1066.9 469,1060.6 469.5,1034.4 470,1024.2 470.5,995.2 471,987.4 471.5,987.6 472,992.6 472.5,1003 473,1039.7 473.5,1049.8 474,1070.2 474.5,1073.4 475,1079.8 475.5,1077.5 476,1077.5 476.5,1080 477,1080.7 477.5,1081.2 478,1080.1 478.5,1080.1 479,1082.2 479.5,1080.6 480,1079.2 480.5,1078.1 481,1080.2 481.5,1080.2 482,1081.7 482.5,1077.4 483,1080.8 483.5,1076 484,1076 484.5,1076.5 485,1078.4 485.5,1078.5 486,1079.2 486.5,1079.6 487,1076.3 487.5,1076.3 488,1076.9 488.5,1074.2 489,1074.2 489.5,1071.6 490,1068.3 490.5,1068.3 491,1069 491.5,1069 492,1069.8 492.5,1068.4 493,1064.3 493.5,1063.4 494,1063.4 494.5,1068.5 495,1068.9 495.5,1066 496,1069.8 496.5,1068 497,1069.5 497.5,1068.8 498,1073.7 498.5,1074.1 499,1073.6 499.5,1077 500,1078.3 500.5,1078.3 501,1078.1 501.5,1078.1 502,1080.2 502.5,1079.2 503,1079.2 503.5,1079.2 504,1079.2 504.5,1083 505,1081.8 505.5,1081.8 506,1084.1 506.5,1082.4 507,1082.4 507.5,1081.9 508,1080.1 508.5,1080.1 509,1080.9 509.5,1081.1 510,1081.5 510.5,1081.5 511,1083.2 511.5,1083.3 512,1083.8 512.5,1082 513,1084.3 513.5,1083.8 514,1083.8 514.5,1082 515,1083.3 515.5,1084 516,1084 516.5,1085 517,1083.6 517.5,1082.1 518,1081.5 518.5,1081.5 519,1082.5 519.5,1081.7 520,1082.6 520.5,1082.6 521,1080.3 521.5,1082.2 522,1080.1 522.5,1080.1 523,1083.7 523.5,1082.9 524,1082.9 524.5,1080.6 525,1081.9 525.5,1078 526,1078 526.5,1081.4 527,1080.2 527.5,1080.2 528,1080 528.5,1080 529,1083.4 529.5,1083.4 530,1079.3 530.5,1080.2 531,1080 531.5,1080 532,1082.3 532.5,1080.2 533,1080.2 533.5,1082.2 534,1082.2 534.5,1077.8 535,1081.8 535.5,1077.3 536,1079.9 536.5,1076.9 537,1076.7 537.5,1074.2 538,1073.8 538.5,1061.3 539,1047.4 539.5,1018.4 540,986.9 540.5,967.4 541,967.4 541.5,968.6 542,987 542.5,1017.3 543,1050.5 543.5,1063 544,1076.9 544.5,1079.3 545,1082.3 545.5,1083.5 546,1083.8 546.5,1081.1 547,1078 547.5,1081.7 548,1081.2 548.5,1081.2 549,1081.4 549.5,1081.4 550,1083.3 550.5,1082.9 551,1079.8 551.5,1079.8 552,1081.7 552.5,1081.7 553,1079.9 553.5,1082 554,1085.3 554.5,1083.3 555,1079.9 555.5,1083.7 556,1083.7 556.5,1082.2 557,1079.2 557.5,1083.5 558,1079.9 558.5,1079.9 559,1084 559.5,1081.4 560,1081.4 560.5,1083.5 561,1083.5 561.5,1081.2 562,1081.2 562.5,1081.3 563,1083 563.5,1078.7 564,1085 564.5,1078.4 565,1082.1 565.5,1083.1 566,1084.3 566.5,1084 567,1083.3 567.5,1083.3 568,1081.2 568.5,1081.8 569,1082.5 569.5,1082.5 570,1082.9 570.5,1083.2 571,1080.2 571.5,1080.2 572,1082.2 572.5,1082.2 573,1081.1 573.5,1080.9 574,1081.3 574.5,1083.4 575,1080.8 575.5,1080.8 576,1080 576.5,1076.7 577,1076.7 577.5,1082.3 578,1081.6 578.5,1076.9 579,1076.9 579.5,1077.5 580,1078.9 580.5,1079.3 581,1077.8 581.5,1076.2 582,1076.2 582.5,1071.5 583,1061.7 583.5,1047.1 584,1036.2 584.5,1017.6 585,1001.5 585.5,988.1 586,987.1 586.5,983.4 587,984.4 587.5,991.3 588,1003.6 588.5,1020.2 589,1039.6 589.5,1053.6 590,1063 590.5,1074.3 591,1075.1 591.5,1078.5 592,1079.4 592.5,1079.7 593,1079.7 593.5,1079.8 594,1083 594.5,1083 595,1077.1 595.5,1077.1 596,1081 596.5,1081 597,1080.4 597.5,1080.4 598,1083 598.5,1081.1 599,1081 599.5,1081.3 600,1077.3 600.5,1077.3 601,1078.7 601.5,1079 602,1079 602.5,1082.7 603,1079 603.5,1078.1 604,1078.1 604.5,1072.5 605,1064.9 605.5,1051.7 606,1007.7 606.5,957.2 607,903 607.5,852.1 608,840 608.5,840 609,863.7 609.5,910.7 610,966.8 610.5,1025.4 611,1052.2 611.5,1071.2 612,1073.1 612.5,1073.1 613,1074.6 613.5,1074.6 614,1069.5 614.5,1061.9 615,1049.9 615.5,1034 616,1023.7 616.5,1004.6 617,999.6 617.5,991.2 618,990.5 618.5,991 619,996.5 619.5,1007.5 620,1029.2 620.5,1045.6 621,1057.5 621.5,1069 622,1070.3 622.5,1077.2 623,1080.1 623.5,1078.8 624,1079.5 624.5,1080.8 625,1080.7 625.5,1081.1 626,1082 626.5,1079.9 627,1079.4 627.5,1075.7 628,1074.1 628.5,1074.8 629,1070.6 629.5,1073.4 630,1077.8 630.5,1077.2 631,1081.1 631.5,1081.1 632,1082.7 632.5,1082.9 633,1082.6 633.5,1082.6 634,1080.8 634.5,1080.8 635,1082.5 635.5,1083.3 636,1083.3 636.5,1083.4 637,1083.4 637.5,1083.4 638,1081.7 638.5,1078.3 639,1078.3 639.5,1081.5 640,1084.3 640.5,1083.5 641,1083.5 641.5,1081.1 642,1080.2 642.5,1080.2 643,1080.1 643.5,1083.3 644,1083.3 644.5,1084.1 645,1077 645.5,1077 646,1080.1 646.5,1080.1 647,1083.5 647.5,1083.5 648,1080.7 648.5,1080.7 649,1082.8 649.5,1080.7 650,1085.6 650.5,1085 651,1082.8 651.5,1085.4 652,1083.9 652.5,1082 653,1082 653.5,1083 654,1083.7 654.5,1082.3 655,1081.2 655.5,1081.6 656,1081.3 656.5,1080.4 657,1080.4 657.5,1079.6 658,1079.6 658.5,1082.9 659,1083.7 659.5,1083.1 660,1082 660.5,1082 661,1080.9 661.5,1083.4 662,1083.3 662.5,1083.3 663,1083.3 663.5,1082.9 664,1082.9 664.5,1081.9 665,1081.9 665.5,1083.8 666,1081.3 666.5,1081.3 667,1083.7 667.5,1078.9 668,1083.2 668.5,1083 669,1081.2 669.5,1081.2 670,1081.3 670.5,1081.3 671,1083 671.5,1083 672,1083.2 672.5,1081.2 673,1081.2 673.5,1082 674,1079.2 674.5,1079.2 675,1080.8 675.5,1083.3 676,1083.7 676.5,1082.8 677,1079.6 677.5,1079.6 678,1083.8 678.5,1080 679,1079.4 679.5,1079.4 680,1080.6 680.5,1081.8 681,1082.2 681.5,1078.7 682,1078.8 682.5,1080.4 683,1074.5 683.5,1074.5 684,1074.3 684.5,1073.4 685,1067.2 685.5,1062 686,1058.7 686.5,1060 687,1056.1 687.5,1056.1 688,1059.1 688.5,1064.2 689,1068.4 689.5,1068.4 690,1076.2 690.5,1078 691,1078 691.5,1079 692,1079.3 692.5,1079.3 693,1081.1 693.5,1081.1 694,1078.2 694.5,1083.3 695,1081.8 695.5,1081.7 696,1082.8 696.5,1080.8 697,1078.4 697.5,1079.4 698,1079.4 698.5,1080.3 699,1078.2 699.5,1078.2 700,1079 700.5,1076.4 701,1076.4 701.5,1078.8 702,1076 702.5,1071 703,1070.8 703.5,1060.5 704,1052.9 704.5,1044.8 705,1042.3 705.5,1042.3 706,1045.2 706.5,1049.5 707,1064.1 707.5,1064.3 708,1071.8 708.5,1077.5 709,1077.5 709.5,1080.8 710,1080.5 710.5,1079.9 711,1082.6 711.5,1079.6 712,1076.3 712.5,1076.3 713,1071.5 713.5,1059 714,1051.6 714.5,1042.1 715,1027.8 715.5,1023.1 716,1012.5 716.5,1012.5 717,1013.3 717.5,1024.7 718,1035.6 718.5,1049 719,1061.6 719.5,1068.3 720,1070.1 720.5,1068.3 721,1059.5 721.5,1050.7 722,1040 722.5,1019.4 723,982.3 723.5,931 724,871.8 724.5,801.4 725,727.1 725.5,635.1 726,569.9 726.5,544.9 727,537.1 727.5,540 728,580.5 728.5,644.5 729,715.8 729.5,804.2 730,868.4 730.5,940.5 731,993 731.5,1014.9 732,1047.4 732.5,1050.6 733,1057.7 733.5,1067.9 734,1071.7 734.5,1070.9 735,1070.9 735.5,1074.4 736,1073.8 736.5,1073.8 737,1073.5 737.5,1077.5 738,1077.5 738.5,1077.5 739,1075.1 739.5,1075.1 740,1079.7 740.5,1078.6 741,1077.5 741.5,1077.5 742,1079.7 742.5,1078.1 743,1078.1 743.5,1081.5 744,1082.4 744.5,1081 745,1081 745.5,1081.8 746,1080.9 746.5,1080.9 747,1083.3 747.5,1081.8 748,1081.1 748.5,1080 749,1081.5 749.5,1083.7 750,1083.7 750.5,1084 751,1079.3 751.5,1079.3 752,1081.3 752.5,1081.3 753,1081.3 753.5,1082.4 754,1081.7 754.5,1081.7 755,1082 755.5,1082.5 756,1081.3 756.5,1083.4 757,1076.6 757.5,1076.6 758,1083 758.5,1083 759,1084.1 759.5,1084.1 760,1084.1 760.5,1082.6 761,1080.9 761.5,1080.9 762,1082.8 762.5,1084.1 763,1081.6 763.5,1082.4 764,1082.4 764.5,1082.5 765,1082.2 765.5,1079.7 766,1079.7 766.5,1080.4 767,1082.2 767.5,1082.2 768,1081.3 768.5,1083.1 769,1086 769.5,1082 770,1082 770.5,1080.8 771,1080.8 771.5,1082.3 772,1081.4 772.5,1079.4 773,1079.4 773.5,1084.5 774,1083.9 774.5,1081.1 775,1079.4 775.5,1084.8 776,1083.2 776.5,1081.8 777,1081.8 777.5,1082.7 778,1084.1 778.5,1079.6 779,1079.6 779.5,1082.5 780,1084.2 780.5,1083.8 781,1083.8 781.5,1080.9 782,1080.1 782.5,1080.1 783,1081.1 783.5,1082.7 784,1081 784.5,1083.2 785,1083.2 785.5,1082.4 786,1082.4 786.5,1081.8 787,1081 787.5,1081 788,1082.1 788.5,1083 789,1083 789.5,1082.5 790,1082.5 790.5,1078.6 791,1078.6 791.5,1080 792,1078.1 792.5,1078.1 793,1080.6 793.5,1076.9 794,1072.5 794.5,1070.3 795,1062.3 795.5,1062.9 796,1059.5 796.5,1049.6 797,1049.6 797.5,1051.4 798,1054.9 798.5,1058.2 799,1060.7 799.5,1069.5 800,1076.6 800.5,1077.6 801,1078.5 801.5,1079.2 802,1079.7 802.5,1078.4 803,1077.5 803.5,1077 804,1072.6 804.5,1072.6 805,1061.2 805.5,1060.9 806,1059.2 806.5,1059.2 807,1060 807.5,1063.8 808,1071.8 808.5,1071.8 809,1077.5 809.5,1083.9 810,1078.9 810.5,1078.9 811,1082 811.5,1083.4 812,1082.4 812.5,1082.1 813,1083.5 813.5,1082.6 814,1082.6 814.5,1084.9 815,1081 815.5,1081 816,1086.4 816.5,1086.1 817,1084.5 817.5,1084.2 818,1084.8 818.5,1083.3 819,1082.2 819.5,1082.1 820,1081.2 820.5,1081.2 821,1082.1 821.5,1084.1 822,1084.1 822.5,1080.2 823,1080.2 823.5,1082.5 824,1082.4 824.5,1080.9 825,1082.1 825.5,1081.6 826,1081.6 826.5,1083.5 827,1079.4 827.5,1080.8 828,1083.3 828.5,1082.7 829,1082.5 829.5,1079.1 830,1081.8 830.5,1080.1 831,1080 831.5,1080 832,1082.1 832.5,1082.1 833,1081.5 833.5,1077.1 834,1077.1 834.5,1072.8 835,1070 835.5,1067.6 836,1067.6 836.5,1068.8 837,1068.8 837.5,1075.1 838,1075.9 838.5,1082.4 839,1082.4 839.5,1083.5 840,1083.6 840.5,1080.7 841,1082 841.5,1082 842,1083.2 842.5,1081.4 843,1081.4 843.5,1080.2 844,1078.1 844.5,1078.1 845,1079.9 845.5,1078.9 846,1078.9 846.5,1081.6 847,1080.3 847.5,1078.3 848,1078.3 848.5,1080.4 849,1080.4 849.5,1076.5 850,1077.1 850.5,1077.7 851,1077.7 851.5,1072.2 852,1073.8 852.5,1071.8 853,1070.2 853.5,1059.3 854,1059.3 854.5,1045.8 855,1045.8 855.5,1036.2 856,1027.6 856.5,1027.6 857,1035.7 857.5,1038 858,1041.5 858.5,1044.9 859,1060.5 859.5,1068.6 860,1073.8 860.5,1075 861,1075 861.5,1079.9 862,1081.1 862.5,1081.7 863,1083.3 863.5,1084.4 864,1083.9 864.5,1083.9 865,1082.8 865.5,1082.8 866,1083.5 866.5,1082.5 867,1082.5 867.5,1082.2 868,1079.8 868.5,1083.4 869,1085.1 869.5,1080.2 870,1080.2 870.5,1079.6 871,1077.8 871.5,1079.7 872,1079.1 872.5,1079.1 873,1080.8 873.5,1080.1 874,1080.6 874.5,1080.6 875,1076.8 875.5,1076 876,1076 876.5,1072.5 877,1071.2 877.5,1065.6 878,1053.4 878.5,1051.2 879,1041.3 879.5,1036.5 880,1036.5 880.5,1037.9 881,1044.2 881.5,1044.2 882,1058 882.5,1062.2 883,1071.1 883.5,1075.7 884,1076.9 884.5,1076.9 885,1082 885.5,1083.7 886,1082.7 886.5,1084.4 887,1085 887.5,1085 888,1084 888.5,1082.4 889,1082.8 889.5,1080.8 890,1080.8 890.5,1084.9 891,1080.2 891.5,1083.9 892,1081.2 892.5,1084.6 893,1085.1 893.5,1085.2 894,1085 894.5,1083.5 895,1079.2 895.5,1081.2 896,1082.9 896.5,1082.9 897,1080.1 897.5,1080.1 898,1083.3 898.5,1083.7 899,1080.4 899.5,1080.4 900,1080.5 900.5,1081 901,1084.5 901.5,1082.3 902,1082.3 902.5,1084 903,1083.7 903.5,1081.8 904,1084.4 904.5,1084.2 905,1083.6 905.5,1080.9 906,1080.6 906.5,1083.9 907,1083 907.5,1081 908,1081 908.5,1084.6 909,1085.8 909.5,1082 910,1082 910.5,1082.8 911,1082.4 911.5,1082.4 912,1084.6 912.5,1080.6 913,1080.6 913.5,1083.8 914,1080.4 914.5,1080.4 915,1083.7 915.5,1081.8 916,1082.3 916.5,1082.3 917,1084.4 917.5,1082.1 918,1082.1 918.5,1082.1 919,1082.1 919.5,1082.4 920,1083.3 920.5,1081.6 921,1082.7 921.5,1083.6 922,1083.3 922.5,1082 923,1082 923.5,1082.5 924,1081.2 924.5,1081.5 925,1081.5 925.5,1084.7 926,1084.1 926.5,1081.7 927,1081.7 927.5,1083.3 928,1080.2 928.5,1083.8 929,1081.1 929.5,1081.1 930,1083.9 930.5,1082 931,1082.2 931.5,1082.5 932,1082.5 932.5,1084.5 933,1081.7 933.5,1081.7 934,1084.6 934.5,1084.1 935,1080.9 935.5,1080.9 936,1082.1 936.5,1083 937,1083.8 937.5,1081.1 938,1081.1 938.5,1080.9 939,1080.9 939.5,1084.5 940,1083.3 940.5,1081.7 941,1080.1 941.5,1080.1 942,1079.2 942.5,1079.2 943,1081.8 943.5,1080.1 944,1076 944.5,1078.3 945,1080 945.5,1077.8 946,1077.8 946.5,1073.8 947,1073.8 947.5,1075.4 948,1064.8 948.5,1058.9 949,1057.4 949.5,1053.4 950,1044.1 950.5,1042.4 951,1037.6 951.5,1037.6 952,1043 952.5,1052 953,1052 953.5,1066 954,1071.4 954.5,1074 955,1079 955.5,1076.1 956,1076.1 956.5,1082 957,1077.9 957.5,1083.2 958,1083.2 958.5,1079.4 959,1079.4 959.5,1079.8 960,1080.8 960.5,1081.2 961,1078.3 961.5,1078.4 962,1075.4 962.5,1077.3 963,1074.4 963.5,1071.9 964,1071.5 964.5,1068.3 965,1068.3 965.5,1065.1 966,1067.7 966.5,1070.2 967,1070.3 967.5,1074.2 968,1073.9 968.5,1075.1 969,1075.2 969.5,1079 970,1075.3 970.5,1082.7 971,1075.7 971.5,1075.7 972,1080.5 972.5,1080.5 973,1080.3 973.5,1080.3 974,1078.8 974.5,1078.8 975,1079.1 975.5,1078.5 976,1078.5 976.5,1079.9 977,1079.7 977.5,1077.4 978,1075.6 978.5,1072.4 979,1072.4 979.5,1065.1 980,1061.8 980.5,1061 981,1057.4 981.5,1053.4 982,1051.4 982.5,1046.1 983,1046.1 983.5,1041 984,1046.2 984.5,1046.2 985,1044.8 985.5,1044.8 986,1055.8 986.5,1055.9 987,1062 987.5,1066.9 988,1071 988.5,1074.7 989,1076.3 989.5,1077.6 990,1080.6 990.5,1080.3 991,1080.3 991.5,1082.1 992,1081.7 992.5,1081.4 993,1081.4 993.5,1080.2 994,1082.1 994.5,1082 995,1082 995.5,1082.4 996,1084 996.5,1084 997,1083.1 997.5,1083.1 998,1084.5 998.5,1081.8 999,1081.8 999.5,1082.6 1000,1083.3 1000.5,1081.2 1001,1080.7 1001.5,1080.7 1002,1081.1 1002.5,1080.8 1003,1080.8 1003.5,1082 1004,1084.3 1004.5,1080.4 1005,1084.1 1005.5,1084.1 1006,1080.4 1006.5,1080.4 1007,1084.4 1007.5,1078.9 1008,1078.6 1008.5,1078.6 1009,1081.9 1009.5,1081.9 1010,1083.6 1010.5,1083.6 1011,1082.2 1011.5,1082.2 1012,1084.2 1012.5,1084.2 1013,1080.6 1013.5,1080.6 1014,1084.2 1014.5,1079.5 1015,1079.5 1015.5,1083.7 1016,1081 1016.5,1081 1017,1082 1017.5,1084.2 1018,1082.7 1018.5,1081.7 1019,1081.7 1019.5,1083.1 1020,1082.6 1020.5,1083.9 1021,1083.9 1021.5,1084.6 1022,1084.4 1022.5,1081.2 1023,1079 1023.5,1083.3 1024,1085.9 1024.5,1084.5 1025,1081.6 1025.5,1081.6 1026,1083.4 1026.5,1084.9 1027,1082.4 1027.5,1081.2 1028,1082.2 1028.5,1081.1 1029,1081 1029.5,1081 1030,1079 1030.5,1082.3 1031,1081.6 1031.5,1081.6 1032,1084.2 1032.5,1083.9 1033,1081.9 1033.5,1081.9 1034,1084.3 1034.5,1084.9 1035,1080.7 1035.5,1080.7 1036,1084.9 1036.5,1082.8 1037,1082.5 1037.5,1082.8 1038,1081.7 1038.5,1081.7 1039,1083.3 1039.5,1082.9 1040,1080.8 1040.5,1081.8 1041,1082.7 1041.5,1084.2 1042,1082.2 1042.5,1082.2 1043,1084 1043.5,1081.9 1044,1081.9 1044.5,1083.5 1045,1081.4 1045.5,1081.4 1046,1084.3 1046.5,1082.8 1047,1082.8 1047.5,1083.8 1048,1084.2 1048.5,1084.4 1049,1085.3 1049.5,1082.6 1050,1078.2 1050.5,1078.2 1051,1084.6 1051.5,1084.3 1052,1082.4 1052.5,1079.7 1053,1079.7 1053.5,1082.6 1054,1082.6 1054.5,1082.1 1055,1083.7 1055.5,1083.4 1056,1083.4 1056.5,1082 1057,1082 1057.5,1083.6 1058,1085 1058.5,1085.1 1059,1084.8 1059.5,1085.1 1060,1086.2 1060.5,1085.6 1061,1083.5 1061.5,1080.6 1062,1080.6 1062.5,1081.8 1063,1085 1063.5,1083.5 1064,1083.8 1064.5,1084.3 1065,1080.5 1065.5,1080.5 1066,1083.8 1066.5,1081.2 1067,1081.2 1067.5,1084.7 1068,1084.3 1068.5,1084.1 1069,1084.1 1069.5,1083.4 1070,1079.9 1070.5,1079.9 1071,1083.7 1071.5,1083.7 1072,1084.7 1072.5,1081.6 1073,1081.6 1073.5,1081 1074,1083.8 1074.5,1083.8 1075,1081.8 1075.5,1081.8 1076,1081.8 1076.5,1081.8 1077,1084.2 1077.5,1083.4 1078,1080 1078.5,1080 1079,1082.7 1079.5,1082.7 1080,1080.5 1080.5,1080.5 1081,1080.4 1081.5,1078.7 1082,1078.7 1082.5,1081.3 1083,1081.3 1083.5,1080.3 1084,1080.3 1084.5,1076.6 1085,1076.6 1085.5,1078.9 1086,1079.4 1086.5,1077.1 1087,1077.1 1087.5,1075.7 1088,1075.7 1088.5,1079.7 1089,1079.2 1089.5,1079.2 1090,1078.8 1090.5,1078.8 1091,1080 1091.5,1081.9 1092,1081.9 1092.5,1081 1093,1080.7 1093.5,1080.7 1094,1082.6 1094.5,1081.8 1095,1081.7 1095.5,1079.8 1096,1079.8 1096.5,1083.7 1097,1079.5 1097.5,1079.5 1098,1083.1 1098.5,1078.3 1099,1078.3 1099.5,1082.5 1100,1083.6 1100.5,1083.9 1101,1082.1 1101.5,1082.1 1102,1081.9 1102.5,1081.9 1103,1079.9 1103.5,1078.2 1104,1078.2 1104.5,1080.7 1105,1080.8 1105.5,1080.8 1106,1082.4 1106.5,1083.3 1107,1082.7 1107.5,1080 1108,1080.3 1108.5,1081.5 1109,1073.6 1109.5,1073.6 1110,1079.7 1110.5,1079.2 1111,1078.6 1111.5,1077.6 1112,1077.6 1112.5,1080.7 1113,1078.6 1113.5,1078.6 1114,1083.6 1114.5,1083.7 1115,1085.4 1115.5,1084.8 1116,1080.9 1116.5,1080.9 1117,1085.7 1117.5,1084.4 1118,1082.9 1118.5,1082.6 1119,1082.6 1119.5,1083.8 1120,1082.1 1120.5,1083.4 1121,1085.4 1121.5,1082.2 1122,1082.2 1122.5,1080.3 1123,1080.3 1123.5,1083.3 1124,1083.3 1124.5,1082.5 1125,1082.5 1125.5,1085.8 1126,1082.1 1126.5,1083.2 1127,1083.9 1127.5,1083.9 1128,1085 1128.5,1083.6 1129,1080.1 1129.5,1080.1 1130,1083.7 1130.5,1083.6 1131,1080.1 1131.5,1084.9 1132,1081.7 1132.5,1081.7 1133,1085.8 1133.5,1083.7 1134,1081.8 1134.5,1081.8 1135,1084.1 1135.5,1082.1 1136,1078.8 1136.5,1083.6 1137,1083.7 1137.5,1083.3 1138,1082.9 1138.5,1082 1139,1082 1139.5,1082.1 1140,1082.8 1140.5,1083.4 1141,1084.2 1141.5,1081.9 1142,1085.1 1142.5,1084.6 1143,1084.6 1143.5,1084.1 1144,1083.4 1144.5,1083.1 1145,1081.3 1145.5,1081.3 1146,1082.1 1146.5,1083.9 1147,1083.1 1147.5,1082.7 1148,1082 1148.5,1082 1149,1082.9 1149.5,1084.5 1150,1083.4 1150.5,1083.4 1151,1083.9 1151.5,1083.3 1152,1083.3 1152.5,1084.3 1153,1084.3 1153.5,1082.5 1154,1081.4 1154.5,1081.4 1155,1083.8 1155.5,1080.8 1156,1080.8 1156.5,1084.6 1157,1082.1 1157.5,1082.1 1158,1084.1 1158.5,1083.1 1159,1084.2 1159.5,1083.7 1160,1083.7 1160.5,1085.4 1161,1082.4 1161.5,1082.4 1162,1084.1 1162.5,1084.3 1163,1084.7 1163.5,1084.1 1164,1084.6 1164.5,1081.6 1165,1081.6 1165.5,1083.5 1166,1083.3 1166.5,1083.7 1167,1083.6 1167.5,1083.6 1168,1084.3 1168.5,1083 1169,1083 1169.5,1083.1 1170,1082.7 1170.5,1082.7 1171,1081.7 1171.5,1081.7 1172,1084.3 1172.5,1083.7 1173,1084.2 1173.5,1079.4 1174,1079.4 1174.5,1085 1175,1083 1175.5,1082.2 1176,1082.8 1176.5,1082.6 1177,1082.6 1177.5,1084.3 1178,1080.7 1178.5,1080.7 1179,1083.4 1179.5,1083.1 1180,1082.7 1180.5,1082.6 1181,1082.4 1181.5,1083.5 1182,1083.5 1182.5,1084 1183,1084 1183.5,1081.2 1184,1081.2 1184.5,1081.5 1185,1082.2 1185.5,1081.7 1186,1081.7 1186.5,1082.6 1187,1082.6 1187.5,1082.7 1188,1082.7 1188.5,1081.9 1189,1076.8 1189.5,1083 1190,1082.3 1190.5,1080.6 1191,1080.6 1191.5,1082.4 1192,1081.8 1192.5,1082.8 1193,1080.2 1193.5,1078.7 1194,1080.5 1194.5,1079.4 1195,1079.4 1195.5,1077.2 1196,1075 1196.5,1072.4 1197,1069.5 1197.5,1069.5 1198,1070.6 1198.5,1064.4 1199,1053.6 1199.5,1049.6 1200,1044 1200.5,1038.8 1201,1032.7 1201.5,1028.8 1202,1019.9 1202.5,1014.4 1203,1007.7 1203.5,1008.1 1204,1005.5 1204.5,998.5 1205,997.4 1205.5,997.4 1206,1001.6 1206.5,1006.1 1207,1006.1 1207.5,1011.1 1208,1020.6 1208.5,1024 1209,1026.5 1209.5,1036.8 1210,1046.6 1210.5,1047.8 1211,1054.3 1211.5,1057 1212,1061.1 1212.5,1066.1 1213,1066.1 1213.5,1069.9 1214,1069.9 1214.5,1077.1 1215,1078.2 1215.5,1077.3 1216,1079.7 1216.5,1079.1 1217,1079.1 1217.5,1077.8 1218,1081.6 1218.5,1080.2 1219,1080.2 1219.5,1081.8 1220,1081.8 1220.5,1081.9 1221,1080.8 1221.5,1080.9 1222,1080.9 1222.5,1083.4 1223,1083.4 1223.5,1080.9 1224,1081.4 1224.5,1084.2 1225,1084.4 1225.5,1081.8 1226,1081.8 1226.5,1081 1227,1080.3 1227.5,1083.6 1228,1084.3 1228.5,1084.4 1229,1083.3 1229.5,1083.1 1230,1083.1 1230.5,1084.2 1231,1083.9 1231.5,1083.9 1232,1080.9 1232.5,1080.9 1233,1082 1233.5,1082.9 1234,1084.4 1234.5,1083.4 1235,1083.4 1235.5,1082.7 1236,1083.6 1236.5,1083.6 1237,1083.2 1237.5,1083.8 1238,1079.4 1238.5,1079.4 1239,1084.3 1239.5,1084.3 1240,1083.1 1240.5,1083.1 1241,1085 1241.5,1082.8 1242,1082.8 1242.5,1084 1243,1084 1243.5,1083.8 1244,1083.8 1244.5,1080.8 1245,1080.8 1245.5,1083.1 1246,1082 1246.5,1082 1247,1082.6 1247.5,1082 1248,1082 1248.5,1081.8 1249,1082.2 1249.5,1082.6 1250,1082.4 1250.5,1082.4 1251,1080.6 1251.5,1080.6 1252,1085.8 1252.5,1084.8 1253,1084.3 1253.5,1084.7 1254,1085 1254.5,1084.3 1255,1084.3 1255.5,1083.1 1256,1082.8 1256.5,1082.8 1257,1084.6 1257.5,1085.5 1258,1083.4 1258.5,1083.4 1259,1084.8 1259.5,1084.8 1260,1084.7 1260.5,1082.3 1261,1082.3 1261.5,1083.7 1262,1081.6 1262.5,1081.6 1263,1082 1263.5,1082 1264,1084.1 1264.5,1084.9 1265,1084.7 1265.5,1083.4 1266,1083.4 1266.5,1083.8 1267,1084.3 1267.5,1079.6 1268,1085.2 1268.5,1083.4 1269,1084.7 1269.5,1084 1270,1084.2 1270.5,1083.1 1271,1083.9 1271.5,1085.3 1272,1081.9 1272.5,1081.9 1273,1082.4 1273.5,1081.9 1274,1082.9 1274.5,1083.2 1275,1082.8 1275.5,1082.8 1276,1083.2 1276.5,1082.3 1277,1082.3 1277.5,1082.8 1278,1082.8 1278.5,1083 1279,1083 1279.5,1084.5 1280,1084.5 1280.5,1084 1281,1084 1281.5,1082.6 1282,1082.6 1282.5,1083.3 1283,1083.3 1283.5,1080.4 1284,1083.8 1284.5,1083.8 1285,1082.7 1285.5,1079.2 1286,1079.2 1286.5,1080.8 1287,1080.2 1287.5,1080 1288,1081.3 1288.5,1080.8 1289,1080.8 1289.5,1081.5 1290,1079.8 1290.5,1079 1291,1079 1291.5,1080.5 1292,1078.4 1292.5,1078.9 1293,1079.4 1293.5,1079.4 1294,1080.2 1294.5,1079.5 1295,1080.7 1295.5,1080.7 1296,1080.3 1296.5,1082.8 1297,1079.8 1297.5,1080 1298,1080 1298.5,1080.6 1299,1080.6 1299.5,1081.6 1300,1082.5 1300.5,1083.7 1301,1082.9 1301.5,1082.9 1302,1083.7 1302.5,1081.4 1303,1080.4 1303.5,1080.4 1304,1081.6 1304.5,1082 1305,1082 1305.5,1082 1306,1082 1306.5,1084.4 1307,1084.3 1307.5,1084.3 1308,1082.3 1308.5,1082.9 1309,1083.4 1309.5,1082.4 1310,1082.4 1310.5,1080.9 1311,1080.2 1311.5,1078.4 1312,1078.9 1312.5,1071.3 1313,1071.2 1313.5,1071.2 1314,1070.4 1314.5,1070.4 1315,1072.4 1315.5,1077.3 1316,1077.3 1316.5,1081.2 1317,1082.3 1317.5,1082.3 1318,1082.4 1318.5,1083.8 1319,1084.6 1319.5,1083.9 1320,1083.9 1320.5,1084.6 1321,1085.2 1321.5,1084.3 1322,1085.6 1322.5,1086 1323,1086 1323.5,1085.3 1324,1084 1324.5,1084 1325,1082.9 1325.5,1082.9 1326,1085.3 1326.5,1083.1 1327,1082.1 1327.5,1082.1 1328,1083.9 1328.5,1085.5 1329,1084.7 1329.5,1084.9 1330,1082.7 1330.5,1085.1 1331,1084.7 1331.5,1083.5 1332,1082.5 1332.5,1082.5 1333,1083.4 1333.5,1082.8 1334,1082.8 1334.5,1084.6 1335,1083.1 1335.5,1083.1 1336,1082.8 1336.5,1082.8 1337,1085.3 1337.5,1082.5 1338,1082.5 1338.5,1084.1 1339,1084.6 1339.5,1084.6 1340,1083 1340.5,1084 1341,1084 1341.5,1085.4 1342,1084.8 1342.5,1081.7 1343,1081.7 1343.5,1083.3 1344,1083.3 1344.5,1083.9 1345,1083.9 1345.5,1084.7 1346,1085.3 1346.5,1083.5 1347,1083.5 1347.5,1083.3 1348,1083.3 1348.5,1084.7 1349,1083.2 1349.5,1083.2 1350,1083.8 1350.5,1083.8 1351,1082.8 1351.5,1081.8 1352,1081.8 1352.5,1084.8 1353,1084.3 1353.5,1084.3 1354,1083.7 1354.5,1084 1355,1084.7 1355.5,1084.3 1356,1084.3 1356.5,1084.5 1357,1084.9 1357.5,1083.8 1358,1083.8 1358.5,1082.4 1359,1082.4 1359.5,1081.8 1360,1081.8 1360.5,1084.8 1361,1086 1361.5,1084.7 1362,1084.7 1362.5,1084.6 1363,1084.5 1363.5,1084.5 1364,1084.8 1364.5,1084.8 1365,1085.5 1365.5,1084.9 1366,1084.9 1366.5,1086.6 1367,1085.8 1367.5,1082.2 1368,1082.2 1368.5,1084 1369,1086.5 1369.5,1086.6 1370,1086.4 1370.5,1085.7 1371,1084.5 1371.5,1084.5 1372,1084.4 1372.5,1084.4 1373,1082.7 1373.5,1082.7 1374,1083.5 1374.5,1083.5 1375,1086.3 1375.5,1085.6 1376,1085.6 1376.5,1083.8 1377,1083.3 1377.5,1083.3 1378,1082.7 1378.5,1082.7 1379,1082.8 1379.5,1082.8 1380,1086 1380.5,1084.4 1381,1084.4 1381.5,1085.1 1382,1084 1382.5,1083.6 1383,1080 1383.5,1080 1384,1084.8 1384.5,1081.6 1385,1081.6 1385.5,1085.3 1386,1086.1 1386.5,1086.5 1387,1085.8 1387.5,1084 1388,1084.5 1388.5,1084.5 1389,1084.5 1389.5,1085.2 1390,1084.3 1390.5,1084.3 1391,1085 1391.5,1085 1392,1085.8 1392.5,1084.1 1393,1083.9 1393.5,1083.9 1394,1085.9 1394.5,1085.8 1395,1085.2 1395.5,1085.2 1396,1084.2 1396.5,1081.3 1397,1081.3 1397.5,1083 1398,1083 1398.5,1085.3 1399,1083.4 1399.5,1083.4 1400,1084.4 1400.5,1084.3 1401,1085.9 1401.5,1083.2 1402,1083.2 1402.5,1085.1 1403,1084.4 1403.5,1082.9 1404,1082.9 1404.5,1084.3 1405,1083.5 1405.5,1083.5 1406,1080 1406.5,1080 1407,1079.6 1407.5,1079.6 1408,1078.5 1408.5,1077.8 1409,1074.2 1409.5,1071.8 1410,1071.4 1410.5,1065.5 1411,1063.7 1411.5,1060.2 1412,1058.8 1412.5,1059.7 1413,1058.2 1413.5,1059.6 1414,1059.6 1414.5,1060.3 1415,1060.3 1415.5,1062.3 1416,1063.6 1416.5,1067.1 1417,1067.3 1417.5,1067.6 1418,1067.6 1418.5,1069.1 1419,1069.8 1419.5,1072.5 1420,1072.5 1420.5,1072.6 1421,1076.9 1421.5,1077.2 1422,1076.4 1422.5,1076.4 1423,1080.2 1423.5,1079.5 1424,1081.1 1424.5,1081.1 1425,1081.7 1425.5,1079.6 1426,1083.1 1426.5,1080.1 1427,1080.1 1427.5,1084.5 1428,1082 1428.5,1082 1429,1084.7 1429.5,1085.1 1430,1084.4 1430.5,1084.3 1431,1085.8 1431.5,1085.8 1431.5,1089.2 1431,1088 1430.5,1088 1430,1087.1 1429.5,1087.5 1429,1087.5 1428.5,1087.2 1428,1087.2 1427.5,1086.8 1427,1086 1426.5,1084.5 1426,1088.6 1425.5,1086.4 1425,1084.8 1424.5,1084.8 1424,1083.3 1423.5,1083.3 1423,1083.2 1422.5,1082.7 1422,1081.2 1421.5,1081.2 1421,1079.9 1420.5,1079.9 1420,1080.6 1419.5,1080.6 1419,1077 1418.5,1080.5 1418,1080.5 1417.5,1074.5 1417,1072.9 1416.5,1070.1 1416,1079.1 1415.5,1066.9 1415,1063.1 1414.5,1067.6 1414,1066.2 1413.5,1069 1413,1069 1412.5,1066.9 1412,1066.9 1411.5,1070.2 1411,1072.6 1410.5,1078.7 1410,1078.7 1409.5,1077.6 1409,1083.2 1408.5,1084.3 1408,1084.3 1407.5,1083.9 1407,1086.7 1406.5,1086.7 1406,1088.1 1405.5,1088.1 1405,1087.5 1404.5,1087.5 1404,1087.1 1403.5,1087.5 1403,1086.6 1402.5,1086.9 1402,1087.6 1401.5,1087.6 1401,1086.9 1400.5,1087.6 1400,1087.6 1399.5,1087.4 1399,1087.5 1398.5,1089 1398,1089 1397.5,1088.6 1397,1085.8 1396.5,1086.2 1396,1089 1395.5,1089.3 1395,1087.8 1394.5,1089.1 1394,1089.1 1393.5,1087.4 1393,1087.5 1392.5,1087.5 1392,1087.2 1391.5,1087.6 1391,1089.8 1390.5,1088.6 1390,1088.6 1389.5,1088.5 1389,1089.7 1388.5,1089.7 1388,1086.8 1387.5,1087.1 1387,1087.1 1386.5,1088.5 1386,1088 1385.5,1088 1385,1087.1 1384.5,1089.3 1384,1087.6 1383.5,1087.6 1383,1086.8 1382.5,1087.3 1382,1087.1 1381.5,1087 1381,1087.2 1380.5,1088.2 1380,1088.2 1379.5,1086.7 1379,1086.7 1378.5,1088.3 1378,1086.3 1377.5,1086.5 1377,1087.5 1376.5,1087.6 1376,1088.6 1375.5,1088.6 1375,1087.8 1374.5,1087.2 1374,1088.8 1373.5,1088.8 1373,1088.8 1372.5,1086.6 1372,1087.3 1371.5,1087.1 1371,1087.4 1370.5,1087.3 1370,1087.9 1369.5,1089 1369,1089 1368.5,1087.8 1368,1087.8 1367.5,1089.8 1367,1089.8 1366.5,1088.4 1366,1087.8 1365.5,1089.3 1365,1089.3 1364.5,1087.9 1364,1087.9 1363.5,1085.8 1363,1087.1 1362.5,1089.9 1362,1089.9 1361.5,1087.6 1361,1087.2 1360.5,1087.2 1360,1087.5 1359.5,1087.5 1359,1088.2 1358.5,1086.7 1358,1086 1357.5,1087.6 1357,1088.2 1356.5,1088.2 1356,1087.3 1355.5,1088.3 1355,1088.2 1354.5,1088.1 1354,1087.6 1353.5,1087.6 1353,1086.5 1352.5,1088.1 1352,1088.1 1351.5,1087.6 1351,1087.6 1350.5,1087.1 1350,1088.5 1349.5,1088.1 1349,1088.3 1348.5,1088.3 1348,1087.1 1347.5,1087.1 1347,1087.1 1346.5,1087.9 1346,1088.2 1345.5,1088.2 1345,1087.4 1344.5,1087.4 1344,1088.7 1343.5,1088.7 1343,1088.7 1342.5,1087.2 1342,1087.2 1341.5,1087.1 1341,1086.8 1340.5,1086.2 1340,1086.2 1339.5,1088.5 1339,1088 1338.5,1088 1338,1086.3 1337.5,1088.1 1337,1088 1336.5,1088 1336,1087.3 1335.5,1087.7 1335,1086.5 1334.5,1087.7 1334,1086 1333.5,1086.2 1333,1087 1332.5,1086.6 1332,1087.5 1331.5,1087.4 1331,1087.4 1330.5,1086.9 1330,1086.7 1329.5,1088.6 1329,1088.6 1328.5,1087.1 1328,1087.1 1327.5,1087.2 1327,1088.9 1326.5,1088.9 1326,1087.4 1325.5,1087.5 1325,1087.7 1324.5,1087.7 1324,1088.8 1323.5,1088.8 1323,1088.2 1322.5,1087.6 1322,1088 1321.5,1088 1321,1087.6 1320.5,1087.6 1320,1086.1 1319.5,1088.4 1319,1088.4 1318.5,1085.1 1318,1086.6 1317.5,1086.6 1317,1085.4 1316.5,1085 1316,1081.7 1315.5,1081.5 1315,1077.3 1314.5,1080.2 1314,1076.4 1313.5,1079.8 1313,1079.8 1312.5,1079.3 1312,1082.5 1311.5,1082.8 1311,1085 1310.5,1085 1310,1084.8 1309.5,1085.2 1309,1086.4 1308.5,1086.4 1308,1086.2 1307.5,1086.2 1307,1086.5 1306.5,1086.5 1306,1085.2 1305.5,1085.9 1305,1087.6 1304.5,1087.6 1304,1087.2 1303.5,1087.2 1303,1085.4 1302.5,1085.8 1302,1087.1 1301.5,1085.3 1301,1084.5 1300.5,1084.5 1300,1084.3 1299.5,1086.3 1299,1086.3 1298.5,1084.4 1298,1083.6 1297.5,1083.4 1297,1082.9 1296.5,1085.8 1296,1085.8 1295.5,1085.8 1295,1085.8 1294.5,1085.4 1294,1084.6 1293.5,1084.1 1293,1083.5 1292.5,1084.2 1292,1084.2 1291.5,1084.2 1291,1083.7 1290.5,1083.4 1290,1082.4 1289.5,1085.2 1289,1085.2 1288.5,1086.3 1288,1086.3 1287.5,1083.7 1287,1084.3 1286.5,1084.6 1286,1084.4 1285.5,1088.6 1285,1088.6 1284.5,1084.8 1284,1085 1283.5,1085 1283,1085 1282.5,1088.2 1282,1087.8 1281.5,1086.2 1281,1087.2 1280.5,1087.2 1280,1087.6 1279.5,1085.9 1279,1086.7 1278.5,1085.8 1278,1085.8 1277.5,1086.5 1277,1086.5 1276.5,1087.1 1276,1085.5 1275.5,1088.6 1275,1086.8 1274.5,1086.8 1274,1088.5 1273.5,1088.5 1273,1088.7 1272.5,1088.7 1272,1087.9 1271.5,1087.9 1271,1087.6 1270.5,1087.6 1270,1089.2 1269.5,1089.2 1269,1086.3 1268.5,1089.3 1268,1089.3 1267.5,1086.4 1267,1087.7 1266.5,1089.7 1266,1087.7 1265.5,1087.7 1265,1088.9 1264.5,1088.9 1264,1088.1 1263.5,1088.1 1263,1086.9 1262.5,1086.9 1262,1086.7 1261.5,1088.2 1261,1085.4 1260.5,1089.5 1260,1087.7 1259.5,1087.7 1259,1087 1258.5,1087 1258,1086.3 1257.5,1087.4 1257,1087.4 1256.5,1086.8 1256,1086.4 1255.5,1086.6 1255,1086.8 1254.5,1089.6 1254,1087.3 1253.5,1086.8 1253,1087.9 1252.5,1087.9 1252,1088 1251.5,1088 1251,1088.9 1250.5,1088.9 1250,1086.9 1249.5,1088.8 1249,1087.3 1248.5,1086.9 1248,1086.9 1247.5,1086.9 1247,1086.9 1246.5,1086.7 1246,1087.3 1245.5,1087.3 1245,1086.8 1244.5,1087.2 1244,1087.7 1243.5,1088.1 1243,1088.1 1242.5,1086.6 1242,1086.5 1241.5,1087.6 1241,1087.6 1240.5,1089.1 1240,1086.8 1239.5,1085.9 1239,1086.4 1238.5,1086.4 1238,1087 1237.5,1087 1237,1086.7 1236.5,1087.8 1236,1087 1235.5,1086.2 1235,1088.5 1234.5,1086.9 1234,1087.9 1233.5,1087.9 1233,1085.7 1232.5,1085.3 1232,1087.7 1231.5,1087.7 1231,1085.9 1230.5,1088 1230,1088 1229.5,1087.2 1229,1087.9 1228.5,1087.8 1228,1087.8 1227.5,1087.1 1227,1085.4 1226.5,1085.4 1226,1088.8 1225.5,1088.8 1225,1087.9 1224.5,1086.9 1224,1085.7 1223.5,1086 1223,1086 1222.5,1085.8 1222,1085.8 1221.5,1084.5 1221,1084.5 1220.5,1086.9 1220,1086.9 1219.5,1086.1 1219,1085.3 1218.5,1084.1 1218,1084.8 1217.5,1084.4 1217,1084.4 1216.5,1083.5 1216,1083.5 1215.5,1081.4 1215,1083.6 1214.5,1083.6 1214,1077.7 1213.5,1078 1213,1078 1212.5,1075.1 1212,1079.3 1211.5,1079.3 1211,1063.7 1210.5,1057.3 1210,1054.3 1209.5,1052.5 1209,1045.8 1208.5,1032.5 1208,1032.5 1207.5,1024.7 1207,1021.4 1206.5,1015.6 1206,1015.6 1205.5,1008.1 1205,1009.3 1204.5,1009.6 1204,1011.8 1203.5,1023.6 1203,1028.5 1202.5,1034.3 1202,1034.9 1201.5,1035.8 1201,1050.1 1200.5,1050.1 1200,1049.7 1199.5,1056.3 1199,1065 1198.5,1072.1 1198,1078.3 1197.5,1078.3 1197,1084.1 1196.5,1081.1 1196,1078.4 1195.5,1081.7 1195,1082.9 1194.5,1082.9 1194,1084.4 1193.5,1084.4 1193,1084.9 1192.5,1085.6 1192,1084.7 1191.5,1086.1 1191,1086.1 1190.5,1083.6 1190,1084.7 1189.5,1085.1 1189,1085.7 1188.5,1085.8 1188,1085.8 1187.5,1085.8 1187,1086.6 1186.5,1086.8 1186,1086.9 1185.5,1085 1185,1085.9 1184.5,1085.9 1184,1086.4 1183.5,1089 1183,1089 1182.5,1086.7 1182,1087.2 1181.5,1086.7 1181,1086.7 1180.5,1087.8 1180,1087.8 1179.5,1087.3 1179,1087.3 1178.5,1084.6 1178,1089.2 1177.5,1086.8 1177,1085.6 1176.5,1087.7 1176,1087.7 1175.5,1088.1 1175,1088.1 1174.5,1086.6 1174,1085.6 1173.5,1086.6 1173,1088 1172.5,1088 1172,1087.5 1171.5,1088.1 1171,1086 1170.5,1086.8 1170,1086.5 1169.5,1086.7 1169,1087.2 1168.5,1087.2 1168,1087.3 1167.5,1087.3 1167,1087.5 1166.5,1087.5 1166,1086.7 1165.5,1087.4 1165,1087.4 1164.5,1088.4 1164,1088.6 1163.5,1088.6 1163,1088.1 1162.5,1088.4 1162,1088.2 1161.5,1088.2 1161,1088 1160.5,1088 1160,1088.2 1159.5,1088.2 1159,1087.4 1158.5,1087.2 1158,1088.1 1157.5,1088.1 1157,1086.4 1156.5,1087.6 1156,1087.6 1155.5,1086.1 1155,1086.3 1154.5,1086.9 1154,1086.2 1153.5,1087.2 1153,1089 1152.5,1088.7 1152,1088.3 1151.5,1088 1151,1088 1150.5,1086.7 1150,1086.4 1149.5,1086.3 1149,1087.3 1148.5,1087.3 1148,1087.8 1147.5,1087.8 1147,1087.6 1146.5,1087.6 1146,1087.3 1145.5,1086.7 1145,1085.6 1144.5,1087.7 1144,1088.1 1143.5,1089.4 1143,1089.4 1142.5,1086.8 1142,1086.8 1141.5,1088.9 1141,1088.9 1140.5,1087.3 1140,1087 1139.5,1087.8 1139,1087.6 1138.5,1086.8 1138,1085.3 1137.5,1087.9 1137,1087.9 1136.5,1086.5 1136,1085.5 1135.5,1085.6 1135,1087.2 1134.5,1087.2 1134,1084.7 1133.5,1088.5 1133,1088.5 1132.5,1087.2 1132,1088 1131.5,1088.4 1131,1087.8 1130.5,1087.8 1130,1085.9 1129.5,1084.9 1129,1089.2 1128.5,1089.9 1128,1089.9 1127.5,1086.5 1127,1086.4 1126.5,1086.6 1126,1089.2 1125.5,1089.2 1125,1089.9 1124.5,1087.3 1124,1088.6 1123.5,1086.4 1123,1086.5 1122.5,1087.7 1122,1087.6 1121.5,1088.6 1121,1088.6 1120.5,1087 1120,1086.7 1119.5,1087.3 1119,1088.5 1118.5,1088.6 1118,1088.6 1117.5,1089.9 1117,1089.9 1116.5,1087.8 1116,1086.9 1115.5,1087.6 1115,1087.6 1114.5,1088.1 1114,1086 1113.5,1085.8 1113,1086.7 1112.5,1086.7 1112,1086 1111.5,1082.7 1111,1082.7 1110.5,1082.4 1110,1084.5 1109.5,1084.5 1109,1083.4 1108.5,1083.3 1108,1084.9 1107.5,1084.9 1107,1086.2 1106.5,1087.2 1106,1087.2 1105.5,1085.1 1105,1085.1 1104.5,1085.1 1104,1085.7 1103.5,1086.8 1103,1087.6 1102.5,1087.6 1102,1087.2 1101.5,1088 1101,1088 1100.5,1087.9 1100,1088.3 1099.5,1086.5 1099,1085.7 1098.5,1085.9 1098,1085.9 1097.5,1085.7 1097,1084.5 1096.5,1087.6 1096,1085.9 1095.5,1084.5 1095,1085.4 1094.5,1085.4 1094,1085.5 1093.5,1085.5 1093,1084.5 1092.5,1084.2 1092,1084.2 1091.5,1084.3 1091,1084.3 1090.5,1083.5 1090,1083.3 1089.5,1082.7 1089,1083.3 1088.5,1083.4 1088,1083.4 1087.5,1085 1087,1085 1086.5,1084.5 1086,1084.8 1085.5,1084.8 1085,1083.1 1084.5,1084.9 1084,1084.9 1083.5,1084.7 1083,1084.7 1082.5,1085.3 1082,1085.3 1081.5,1085.4 1081,1084.1 1080.5,1085.6 1080,1085.8 1079.5,1087.6 1079,1087.6 1078.5,1088.2 1078,1089.1 1077.5,1085.9 1077,1087.8 1076.5,1087.8 1076,1087.3 1075.5,1086.9 1075,1085.5 1074.5,1087.2 1074,1088.9 1073.5,1087.6 1073,1086.3 1072.5,1086.6 1072,1088.7 1071.5,1088.7 1071,1087.7 1070.5,1087.4 1070,1087.4 1069.5,1087.6 1069,1086.5 1068.5,1085.5 1068,1087 1067.5,1086.9 1067,1086.7 1066.5,1089.3 1066,1089.3 1065.5,1087.8 1065,1087.5 1064.5,1087.5 1064,1086 1063.5,1086 1063,1089 1062.5,1089 1062,1086.4 1061.5,1087.3 1061,1088.4 1060.5,1088.4 1060,1088.1 1059.5,1088.3 1059,1088.3 1058.5,1088 1058,1087.7 1057.5,1088.9 1057,1087 1056.5,1085.7 1056,1086.7 1055.5,1087.9 1055,1087.9 1054.5,1085.6 1054,1086.7 1053.5,1088.2 1053,1089 1052.5,1087.6 1052,1088.5 1051.5,1088.9 1051,1088.9 1050.5,1088.9 1050,1086.8 1049.5,1086.4 1049,1088.9 1048.5,1088.9 1048,1089.2 1047.5,1089.2 1047,1086.4 1046.5,1089 1046,1089 1045.5,1088.7 1045,1087.7 1044.5,1088.7 1044,1088.7 1043.5,1088.5 1043,1088.5 1042.5,1087.1 1042,1086.1 1041.5,1085.3 1041,1085 1040.5,1085.7 1040,1089.6 1039.5,1089.6 1039,1086.8 1038.5,1086.6 1038,1086.3 1037.5,1085.6 1037,1085.7 1036.5,1086.3 1036,1088.3 1035.5,1088.8 1035,1087.3 1034.5,1087.3 1034,1087.9 1033.5,1086.6 1033,1086.7 1032.5,1088.2 1032,1087 1031.5,1089.9 1031,1087.5 1030.5,1086.3 1030,1087.5 1029.5,1087.5 1029,1087.1 1028.5,1086.8 1028,1085.9 1027.5,1087 1027,1087.4 1026.5,1087.5 1026,1087.5 1025.5,1085.3 1025,1085.5 1024.5,1088.6 1024,1088.6 1023.5,1086.4 1023,1087.5 1022.5,1087.5 1022,1087.9 1021.5,1087.9 1021,1086.2 1020.5,1087.1 1020,1085.7 1019.5,1086.7 1019,1086.7 1018.5,1087.4 1018,1087.4 1017.5,1088.1 1017,1088.1 1016.5,1088.3 1016,1088.3 1015.5,1086.9 1015,1088.4 1014.5,1088 1014,1088 1013.5,1087 1013,1088.2 1012.5,1087.9 1012,1088.1 1011.5,1088.7 1011,1087.4 1010.5,1087.4 1010,1087.6 1009.5,1087.7 1009,1087.8 1008.5,1088.3 1008,1088.3 1007.5,1086.4 1007,1088.2 1006.5,1088.9 1006,1088.2 1005.5,1086.9 1005,1086.5 1004.5,1086.5 1004,1088.4 1003.5,1086.9 1003,1086.6 1002.5,1087 1002,1086.4 1001.5,1087.1 1001,1087.1 1000.5,1087.8 1000,1086.1 999.5,1086.1 999,1087.9 998.5,1087.8 998,1086.9 997.5,1088.3 997,1088.3 996.5,1086.4 996,1088.5 995.5,1088.8 995,1088.8 994.5,1086.3 994,1086.6 993.5,1086.6 993,1084.6 992.5,1087.5 992,1087.5 991.5,1088 991,1084.6 990.5,1083.9 990,1083.9 989.5,1083.3 989,1082.4 988.5,1079.9 988,1079 987.5,1073.8 987,1073.3 986.5,1073.7 986,1073.7 985.5,1066 985,1057.2 984.5,1056.6 984,1048.3 983.5,1055.4 983,1057.8 982.5,1065.3 982,1065.3 981.5,1061.9 981,1064.4 980.5,1073.3 980,1073.3 979.5,1081.4 979,1076.9 978.5,1076.9 978,1080.4 977.5,1081.6 977,1085.5 976.5,1085.5 976,1081.3 975.5,1084 975,1084 974.5,1082.9 974,1084.6 973.5,1084.6 973,1084.9 972.5,1084.9 972,1083 971.5,1083.5 971,1085.6 970.5,1086.2 970,1086.2 969.5,1082.4 969,1082.4 968.5,1079.2 968,1079.5 967.5,1083.4 967,1077.2 966.5,1072.4 966,1075.3 965.5,1073.7 965,1074.6 964.5,1077.1 964,1077.1 963.5,1077.8 963,1077.4 962.5,1081.4 962,1082.3 961.5,1082.3 961,1086.7 960.5,1086.7 960,1085.3 959.5,1085.3 959,1085.1 958.5,1085.1 958,1086.2 957.5,1085.1 957,1086 956.5,1086 956,1088.3 955.5,1085.3 955,1083.9 954.5,1080.1 954,1080.6 953.5,1074.9 953,1074.9 952.5,1063.7 952,1060.1 951.5,1050.3 951,1050.3 950.5,1057.5 950,1061.6 949.5,1064.2 949,1072.9 948.5,1072.9 948,1078.8 947.5,1079.1 947,1079.1 946.5,1081.3 946,1081.3 945.5,1082.9 945,1083.3 944.5,1086.1 944,1086.1 943.5,1085.2 943,1085.2 942.5,1085.7 942,1086.2 941.5,1086.2 941,1085.9 940.5,1085.3 940,1086 939.5,1086 939,1085.3 938.5,1086.9 938,1085.3 937.5,1085.8 937,1087.9 936.5,1087.9 936,1088.2 935.5,1088.2 935,1086.4 934.5,1087.9 934,1087.9 933.5,1085.4 933,1085.9 932.5,1087 932,1087.2 931.5,1087.4 931,1088.4 930.5,1088.4 930,1086.8 929.5,1087 929,1086.8 928.5,1087.4 928,1087.6 927.5,1087.6 927,1087.5 926.5,1086.1 926,1087.8 925.5,1089.2 925,1089.2 924.5,1084.9 924,1090 923.5,1090 923,1085.8 922.5,1085.8 922,1085.6 921.5,1085.6 921,1087.4 920.5,1087.4 920,1088.4 919.5,1088.8 919,1088.8 918.5,1087.9 918,1087.9 917.5,1088.2 917,1086.6 916.5,1087.3 916,1087.3 915.5,1087.3 915,1087 914.5,1087 914,1085.7 913.5,1086.5 913,1088.4 912.5,1086.5 912,1088.6 911.5,1086.2 911,1088.9 910.5,1088.9 910,1088 909.5,1088 909,1087.8 908.5,1087.7 908,1086.8 907.5,1084.9 907,1086.8 906.5,1087 906,1087 905.5,1087.1 905,1087.7 904.5,1087.7 904,1088.2 903.5,1088.2 903,1089.6 902.5,1088.5 902,1088.3 901.5,1088.5 901,1088.5 900.5,1087.4 900,1087.4 899.5,1088.3 899,1086.5 898.5,1086.9 898,1088.4 897.5,1085.9 897,1086.5 896.5,1088.3 896,1088.3 895.5,1087 895,1088.1 894.5,1088.1 894,1088 893.5,1088.1 893,1088.1 892.5,1089.1 892,1085.8 891.5,1087.1 891,1088.7 890.5,1088.7 890,1088.8 889.5,1087 889,1085.6 888.5,1086.6 888,1088.3 887.5,1088.3 887,1086.1 886.5,1087.8 886,1087.8 885.5,1088 885,1085.9 884.5,1085.7 884,1085.7 883.5,1083.6 883,1083.6 882.5,1074.6 882,1071.5 881.5,1062.6 881,1053.8 880.5,1051.6 880,1051.6 879.5,1046.7 879,1059 878.5,1061.6 878,1068.2 877.5,1076.8 877,1076.8 876.5,1083.1 876,1083.1 875.5,1082.7 875,1083.3 874.5,1083.5 874,1083.5 873.5,1082.2 873,1085.4 872.5,1085.4 872,1086.1 871.5,1086 871,1086 870.5,1088.2 870,1084.3 869.5,1086.2 869,1088 868.5,1088 868,1086.7 867.5,1085 867,1087.7 866.5,1087.7 866,1088.8 865.5,1086.8 865,1086.1 864.5,1086.1 864,1087.1 863.5,1087.2 863,1086.2 862.5,1086.2 862,1086.8 861.5,1086.8 861,1086.6 860.5,1084.2 860,1079.3 859.5,1075.2 859,1072.3 858.5,1072.3 858,1055.2 857.5,1046.2 857,1038.7 856.5,1038.3 856,1037.3 855.5,1048.2 855,1048.2 854.5,1064 854,1074.2 853.5,1075.3 853,1075.3 852.5,1075.2 852,1081.8 851.5,1081.1 851,1083.8 850.5,1084.9 850,1084.9 849.5,1084.2 849,1084.5 848.5,1084.5 848,1085.3 847.5,1085.8 847,1085.8 846.5,1086.2 846,1086.2 845.5,1086.7 845,1085.5 844.5,1084.6 844,1085.6 843.5,1085 843,1086.9 842.5,1087.7 842,1087.7 841.5,1085.9 841,1086.9 840.5,1086.9 840,1086.7 839.5,1087.8 839,1087.8 838.5,1086.4 838,1086.4 837.5,1081.2 837,1079.8 836.5,1077.7 836,1077.9 835.5,1077.9 835,1073.5 834.5,1078.9 834,1080.2 833.5,1083.3 833,1086.5 832.5,1086.5 832,1086.8 831.5,1085.6 831,1086.2 830.5,1087.5 830,1085.2 829.5,1084.8 829,1087.9 828.5,1087.9 828,1087.1 827.5,1085.7 827,1087.3 826.5,1087.3 826,1086.4 825.5,1087.2 825,1087.7 824.5,1087.7 824,1088.5 823.5,1088.5 823,1086.3 822.5,1089.6 822,1089.6 821.5,1086 821,1086.5 820.5,1086.2 820,1086.1 819.5,1087 819,1087 818.5,1086.9 818,1088.3 817.5,1088.3 817,1088.5 816.5,1088.5 816,1087.8 815.5,1087.8 815,1087.8 814.5,1087.8 814,1088.7 813.5,1086.3 813,1087 812.5,1087 812,1086.5 811.5,1087.5 811,1086.5 810.5,1086.5 810,1085.5 809.5,1086.2 809,1086.2 808.5,1080.7 808,1074.3 807.5,1072.6 807,1065.4 806.5,1065.4 806,1067.3 805.5,1067.3 805,1078.5 804.5,1078.5 804,1078.5 803.5,1081.9 803,1085.3 802.5,1086.6 802,1086.6 801.5,1083 801,1083 800.5,1081.7 800,1081.1 799.5,1081.1 799,1079.7 798.5,1074.7 798,1065.5 797.5,1056.6 797,1060.2 796.5,1068.5 796,1068.5 795.5,1070.4 795,1080 794.5,1080 794,1080.4 793.5,1082.6 793,1082.8 792.5,1082.8 792,1083.2 791.5,1085.3 791,1085.3 790.5,1085.7 790,1085.7 789.5,1084.6 789,1086.5 788.5,1086.5 788,1086 787.5,1088.3 787,1088.3 786.5,1088.4 786,1088.4 785.5,1085 785,1085 784.5,1086 784,1086 783.5,1085.3 783,1086.5 782.5,1086.2 782,1085.3 781.5,1085.3 781,1087.8 780.5,1087.3 780,1087.7 779.5,1087.7 779,1086.4 778.5,1086.6 778,1086.4 777.5,1086.4 777,1087.5 776.5,1087.5 776,1088.1 775.5,1089.1 775,1089.1 774.5,1088.7 774,1088.7 773.5,1088.7 773,1086.2 772.5,1086.2 772,1086.9 771.5,1086.9 771,1087.4 770.5,1086.9 770,1087.6 769.5,1088.3 769,1088.3 768.5,1086.6 768,1086.2 767.5,1086.2 767,1086.8 766.5,1088.4 766,1088.4 765.5,1085.4 765,1087.1 764.5,1088 764,1088 763.5,1087.7 763,1089 762.5,1089 762,1087.4 761.5,1086.9 761,1086.6 760.5,1088.4 760,1088.7 759.5,1088.7 759,1087.9 758.5,1087.9 758,1086.4 757.5,1089 757,1089 756.5,1088.1 756,1088.1 755.5,1086.3 755,1086.3 754.5,1086.3 754,1085.9 753.5,1087.1 753,1087.1 752.5,1086.7 752,1087 751.5,1087 751,1085.6 750.5,1085.6 750,1086.5 749.5,1086 749,1085.4 748.5,1084.8 748,1087.5 747.5,1087.5 747,1087.5 746.5,1087.5 746,1084.8 745.5,1084.8 745,1085.6 744.5,1083.7 744,1083.8 743.5,1085.4 743,1084 742.5,1084.3 742,1084.3 741.5,1083.5 741,1086.2 740.5,1086.2 740,1085.9 739.5,1085.9 739,1083.9 738.5,1081.1 738,1084.3 737.5,1081.4 737,1083.4 736.5,1083.4 736,1083.1 735.5,1083.1 735,1079.7 734.5,1074.8 734,1078.2 733.5,1076.9 733,1069 732.5,1063.4 732,1063.4 731.5,1052.6 731,1027.5 730.5,995.5 730,952.9 729.5,896.5 729,840.5 728.5,752 728,665.8 727.5,595.5 727,548.2 726.5,596.1 726,670.2 725.5,747.6 725,825.4 724.5,903 724,952.4 723.5,997.2 723,1028.8 722.5,1041 722,1053.1 721.5,1063.6 721,1075.1 720.5,1073.6 720,1075.4 719.5,1075.4 719,1068.6 718.5,1068.1 718,1053 717.5,1049.3 717,1026.5 716.5,1019.9 716,1024.5 715.5,1032.8 715,1049.2 714.5,1052.2 714,1073.4 713.5,1073.8 713,1079 712.5,1084.6 712,1084.6 711.5,1084.5 711,1083.9 710.5,1083.9 710,1085.5 709.5,1085.5 709,1084.6 708.5,1080.4 708,1079.1 707.5,1076.4 707,1068.8 706.5,1068.8 706,1052.3 705.5,1052.1 705,1052.1 704.5,1057.1 704,1066.1 703.5,1079.1 703,1079.1 702.5,1076.1 702,1083.2 701.5,1082 701,1081.7 700.5,1084.1 700,1084.1 699.5,1082.9 699,1081.9 698.5,1085.5 698,1084.2 697.5,1085.3 697,1085.9 696.5,1086.6 696,1087 695.5,1084.7 695,1087 694.5,1087 694,1086.7 693.5,1086.7 693,1087 692.5,1087 692,1086.8 691.5,1086.8 691,1081.3 690.5,1080.9 690,1080.9 689.5,1079.4 689,1072.7 688.5,1069.9 688,1069.9 687.5,1062 687,1062.3 686.5,1070.8 686,1070.8 685.5,1069.2 685,1080.9 684.5,1074.9 684,1082.9 683.5,1083 683,1085.2 682.5,1085 682,1082.8 681.5,1084.2 681,1085.8 680.5,1085.8 680,1084.8 679.5,1085.4 679,1085.4 678.5,1088.1 678,1088.1 677.5,1086.1 677,1086.1 676.5,1086.9 676,1086.9 675.5,1087.5 675,1087.5 674.5,1084.8 674,1084.7 673.5,1085.9 673,1086.9 672.5,1086.9 672,1086.4 671.5,1086.4 671,1087.1 670.5,1087.8 670,1085.6 669.5,1085 669,1086.5 668.5,1085.6 668,1086.1 667.5,1086.6 667,1086.6 666.5,1085.4 666,1085.4 665.5,1085.8 665,1085.9 664.5,1087.5 664,1087.5 663.5,1087.5 663,1087.7 662.5,1085.7 662,1087.1 661.5,1087.1 661,1086.5 660.5,1086.5 660,1085.3 659.5,1088.6 659,1088.8 658.5,1088.8 658,1087 657.5,1087 657,1086.1 656.5,1086 656,1087.5 655.5,1089.1 655,1089.1 654.5,1088.2 654,1089.3 653.5,1090 653,1090 652.5,1088.5 652,1086.1 651.5,1087.2 651,1087.2 650.5,1087.5 650,1087.5 649.5,1086.6 649,1087.7 648.5,1088.4 648,1088.4 647.5,1087.1 647,1086.7 646.5,1086.7 646,1084.9 645.5,1087.3 645,1087.3 644.5,1086.9 644,1086.2 643.5,1088.9 643,1088.9 642.5,1088.4 642,1086.6 641.5,1087.2 641,1087.2 640.5,1086.3 640,1087 639.5,1087 639,1087.7 638.5,1086.6 638,1087.4 637.5,1087.9 637,1087.9 636.5,1087.2 636,1088.4 635.5,1089.1 635,1087.3 634.5,1088.1 634,1086.1 633.5,1086.3 633,1086.8 632.5,1087.3 632,1087 631.5,1085 631,1084.7 630.5,1081.4 630,1080.9 629.5,1078.3 629,1082.4 628.5,1082.4 628,1080.5 627.5,1081.3 627,1082.5 626.5,1083.2 626,1087.8 625.5,1087.8 625,1084.4 624.5,1085.7 624,1086 623.5,1086 623,1085.8 622.5,1081.8 622,1079.7 621.5,1077.7 621,1073.1 620.5,1061.7 620,1051.6 619.5,1036.6 619,1013.8 618.5,1009.1 618,1002.5 617.5,1002.5 617,1015.8 616.5,1039.3 616,1044.4 615.5,1064.1 615,1064.7 614.5,1076.2 614,1077.9 613.5,1081.7 613,1081.1 612.5,1081.1 612,1081.2 611.5,1077.8 611,1077.8 610.5,1062 610,1040.5 609.5,989.5 609,934.2 608.5,870.3 608,857.5 607.5,920.2 607,981 606.5,1039.3 606,1057.8 605.5,1074.8 605,1078.9 604.5,1084.1 604,1084.1 603.5,1083.6 603,1083.6 602.5,1083.3 602,1084.7 601.5,1085.2 601,1085.2 600.5,1080.9 600,1085 599.5,1084.2 599,1084.4 598.5,1084.9 598,1085.7 597.5,1086.1 597,1086.2 596.5,1086.1 596,1086.6 595.5,1086.6 595,1084.4 594.5,1087.2 594,1087.7 593.5,1087.7 593,1085.7 592.5,1084.9 592,1085.7 591.5,1082.6 591,1084.5 590.5,1081.5 590,1078.6 589.5,1071.2 589,1066.8 588.5,1040 588,1031.4 587.5,1018.6 587,993.7 586.5,987.5 586,1002.4 585.5,1005.8 585,1025.5 584.5,1040.2 584,1051.9 583.5,1065.8 583,1075 582.5,1079.2 582,1080.9 581.5,1080.9 581,1083 580.5,1082 580,1083.5 579.5,1081.9 579,1083 578.5,1084.6 578,1085.7 577.5,1085.7 577,1086.2 576.5,1086.2 576,1085.5 575.5,1085.5 575,1085.1 574.5,1085.7 574,1084.6 573.5,1084.6 573,1084.9 572.5,1085 572,1086.4 571.5,1086.9 571,1085.5 570.5,1086.5 570,1086.5 569.5,1086.4 569,1088.6 568.5,1088.6 568,1087.6 567.5,1087.6 567,1086.9 566.5,1085.4 566,1088.2 565.5,1088.2 565,1087.9 564.5,1087.8 564,1087.8 563.5,1087.4 563,1087.4 562.5,1086.1 562,1085.9 561.5,1086.1 561,1086.6 560.5,1087.3 560,1087.3 559.5,1088.9 559,1088.9 558.5,1087.3 558,1086.4 557.5,1087.6 557,1085.4 556.5,1085.4 556,1087.1 555.5,1086.8 555,1087.7 554.5,1087.7 554,1087 553.5,1086.5 553,1088 552.5,1088 552,1086.7 551.5,1087.7 551,1087.1 550.5,1088.4 550,1088.4 549.5,1086 549,1085.6 548.5,1085.8 548,1087.9 547.5,1085.6 547,1086.5 546.5,1086.5 546,1086.7 545.5,1086.7 545,1084.9 544.5,1083.9 544,1083.6 543.5,1079.8 543,1073.5 542.5,1055 542,1029.7 541.5,993.6 541,974.6 540.5,991.2 540,1019.4 539.5,1054.7 539,1070.2 538.5,1075.1 538,1078.1 537.5,1082.3 537,1082.3 536.5,1083.9 536,1084.6 535.5,1084.6 535,1083.6 534.5,1084.9 534,1086.1 533.5,1086.1 533,1085.7 532.5,1085.3 532,1085.3 531.5,1086.7 531,1086.7 530.5,1086.1 530,1086.1 529.5,1085.8 529,1086.9 528.5,1086.9 528,1087.2 527.5,1087.2 527,1085.9 526.5,1087.3 526,1087.3 525.5,1086.3 525,1086.3 524.5,1085.9 524,1087.3 523.5,1088 523,1087.1 522.5,1084.8 522,1085.1 521.5,1085.1 521,1086.9 520.5,1086.9 520,1086.5 519.5,1086.5 519,1086.5 518.5,1086.5 518,1086.4 517.5,1086.4 517,1089.1 516.5,1089.6 516,1089.6 515.5,1088 515,1088 514.5,1087.4 514,1089.3 513.5,1086 513,1088.8 512.5,1088.8 512,1088.3 511.5,1088.1 511,1086.1 510.5,1087.3 510,1087.7 509.5,1087.7 509,1084.8 508.5,1085.5 508,1086.4 507.5,1086.1 507,1086.1 506.5,1087.1 506,1086.4 505.5,1085.9 505,1087.7 504.5,1086.2 504,1083.3 503.5,1081.3 503,1087.3 502.5,1084.6 502,1084.6 501.5,1083.6 501,1085.1 500.5,1082.9 500,1082.9 499.5,1081 499,1078.7 498.5,1077.1 498,1078.7 497.5,1078.7 497,1076.9 496.5,1076.8 496,1076 495.5,1076 495,1071.8 494.5,1074.1 494,1076.3 493.5,1071.2 493,1076.4 492.5,1076.4 492,1080.5 491.5,1080.5 491,1074.7 490.5,1076.1 490,1075.4 489.5,1076.1 489,1076.5 488.5,1081.8 488,1083.5 487.5,1083.5 487,1083.5 486.5,1080.9 486,1081.5 485.5,1081.3 485,1082.2 484.5,1080.7 484,1085.3 483.5,1081.6 483,1081.4 482.5,1082.3 482,1082.7 481.5,1086 481,1086 480.5,1082.6 480,1082.6 479.5,1084.6 479,1085.2 478.5,1085.2 478,1084.5 477.5,1085 477,1083.6 476.5,1082.5 476,1084.7 475.5,1084.7 475,1083.7 474.5,1083.2 474,1079.3 473.5,1073.5 473,1071.5 472.5,1040.1 472,1008.2 471.5,998.2 471,999.5 470.5,1027.6 470,1050.6 469.5,1066.9 469,1071.8 468.5,1076.7 468,1076.7 467.5,1078.5 467,1078.5 466.5,1082.3 466,1080.2 465.5,1081.4 465,1080.4 464.5,1080.7 464,1083.1 463.5,1083.1 463,1083 462.5,1083.2 462,1084.2 461.5,1084.6 461,1084.6 460.5,1081.7 460,1083.3 459.5,1083.3 459,1085.2 458.5,1085.2 458,1084.2 457.5,1082.6 457,1082.3 456.5,1084.7 456,1085.5 455.5,1084.4 455,1084.4 454.5,1083.6 454,1083.9 453.5,1085.1 453,1084.5 452.5,1083.2 452,1082.8 451.5,1083.7 451,1083.7 450.5,1083.6 450,1083.6 449.5,1084.7 449,1084.7 448.5,1081.7 448,1081.7 447.5,1079.6 447,1080.2 446.5,1080.2 446,1079.7 445.5,1077.3 445,1074.9 444.5,1070 444,1069.2 443.5,1073.1 443,1075.2 442.5,1076.4 442,1076.4 441.5,1078.1 441,1078.1 440.5,1077.9 440,1077.9 439.5,1077.9 439,1078.5 438.5,1078.5 438,1078.6 437.5,1078.4 437,1079.2 436.5,1082.3 436,1082.3 435.5,1082 435,1080.4 434.5,1081.5 434,1081.8 433.5,1083.1 433,1083.1 432.5,1083.5 432,1083.5 431.5,1082.6 431,1082.6 430.5,1083.8 430,1083.8 429.5,1083.7 429,1084.6 428.5,1081.8 428,1083.9 427.5,1083.2 427,1083.6 426.5,1082.1 426,1083.6 425.5,1085.1 425,1085.1 424.5,1082.5 424,1083.1 423.5,1083.1 423,1083.7 422.5,1084.6 422,1083 421.5,1084.7 421,1084.7 420.5,1083.4 420,1083.4 419.5,1082.1 419,1081.6 418.5,1085.6 418,1085.6 417.5,1083.7 417,1084 416.5,1083 416,1083.5 415.5,1083.5 415,1082.4 414.5,1083.4 414,1083.1 413.5,1083.1 413,1081 412.5,1083.7 412,1081.3 411.5,1080.1 411,1081.3 410.5,1083.3 410,1082.3 409.5,1082.3 409,1082 408.5,1082 408,1082.5 407.5,1082.5 407,1083.8 406.5,1081.5 406,1080.5 405.5,1083 405,1083 404.5,1081.6 404,1082.2 403.5,1083.1 403,1083.1 402.5,1082.8 402,1082.8 401.5,1083 401,1083 400.5,1082.8 400,1082.8 399.5,1082.3 399,1082.3 398.5,1081.8 398,1081.5 397.5,1080.8 397,1080.8 396.5,1083.1 396,1081.4 395.5,1081.9 395,1081.4 394.5,1081.1 394,1077 393.5,1071.8 393,1060.7 392.5,1051 392,1041.1 391.5,1047.2 391,1056.2 390.5,1067.8 390,1071.9 389.5,1073.3 389,1075.1 388.5,1075.1 388,1076.1 387.5,1077.6 387,1078.2 386.5,1079 386,1080.5 385.5,1078.7 385,1077.3 384.5,1078.9 384,1080.6 383.5,1080.2 383,1080.2 382.5,1081.6 382,1081.6 381.5,1077.5 381,1079.5 380.5,1079.8 380,1078.2 379.5,1080.6 379,1081.4 378.5,1081.4 378,1079.7 377.5,1080 377,1080.1 376.5,1080.1 376,1079.1 375.5,1079.1 375,1078.4 374.5,1078.4 374,1077.8 373.5,1075.5 373,1075.4 372.5,1074 372,1077.1 371.5,1077.1 371,1076.7 370.5,1071.8 370,1072.4 369.5,1072.4 369,1070.8 368.5,1072.1 368,1072.1 367.5,1071.1 367,1069.7 366.5,1072.5 366,1074 365.5,1074 365,1074.4 364.5,1071.8 364,1076.1 363.5,1076.1 363,1076.7 362.5,1076.7 362,1075.1 361.5,1078.5 361,1078.5 360.5,1077.1 360,1078.6 359.5,1080 359,1080 358.5,1078.6 358,1078.3 357.5,1078.3 357,1077.7 356.5,1077.5 356,1077.5 355.5,1079 355,1076.6 354.5,1078.4 354,1077.5 353.5,1077.9 353,1077.9 352.5,1078.2 352,1079.8 351.5,1079.8 351,1078.1 350.5,1078.3 350,1079.9 349.5,1079.9 349,1076.1 348.5,1079 348,1079 347.5,1078.6 347,1076.7 346.5,1080.3 346,1080.3 345.5,1077.1 345,1077.1 344.5,1076.9 344,1078 343.5,1078 343,1077.8 342.5,1077.7 342,1077.8 341.5,1079.3 341,1078.8 340.5,1078.8 340,1074.5 339.5,1077.2 339,1073.6 338.5,1077 338,1077 337.5,1077.8 337,1078.2 336.5,1078.2 336,1077.1 335.5,1076.6 335,1078.5 334.5,1078.5 334,1074.9 333.5,1076 333,1077.5 332.5,1078.6 332,1078.6 331.5,1077 331,1075.7 330.5,1075.8 330,1076.5 329.5,1076.5 329,1076.6 328.5,1076.6 328,1075.1 327.5,1076.6 327,1076.6 326.5,1077.5 326,1077.5 325.5,1075.8 325,1077 324.5,1077 324,1076.1 323.5,1075.4 323,1076.2 322.5,1075.6 322,1074.8 321.5,1076.5 321,1076.5 320.5,1073.8 320,1073.8 319.5,1074.6 319,1074.9 318.5,1074.9 318,1074.8 317.5,1075.4 317,1074.2 316.5,1074.6 316,1076.2 315.5,1076.2 315,1073.6 314.5,1074.3 314,1074.3 313.5,1073.7 313,1073.2 312.5,1073.2 312,1073.7 311.5,1075.5 311,1072.3 310.5,1072.7 310,1072.9 309.5,1073.5 309,1073.5 308.5,1073.7 308,1074.6 307.5,1074.6 307,1074.3 306.5,1074.3 306,1075.1 305.5,1075.1 305,1072.9 304.5,1072.9 304,1072.9 303.5,1073.3 303,1075 302.5,1075 302,1073.5 301.5,1073.5 301,1072.3 300.5,1072.6 300,1072.6 299.5,1072.3 299,1072.2 298.5,1071.4 298,1072.6 297.5,1072.6 297,1073.9 296.5,1071.7 296,1072.4 295.5,1071.9 295,1071.1 294.5,1071.2 294,1071.2 293.5,1069.1 293,1071.6 292.5,1071.6 292,1071.6 291.5,1071.6 291,1071.2 290.5,1072.3 290,1072.7 289.5,1072.5 289,1072.3 288.5,1073.4 288,1073.4 287.5,1070.7Z" fill="#767676" stroke="#767676" stroke-width="2.2" stroke-linejoin="round" stroke-linecap="butt" shape-rendering="crispEdges"/>
<g fill="#000" shape-rendering="crispEdges">
<rect x="159" y="28" width="1402" height="5"/>
<rect x="159" y="1152" width="1402" height="5"/>
<rect x="159" y="28" width="5" height="1129"/>
<rect x="1555" y="28" width="6" height="1129"/>
<rect x="159" y="1152" width="5" height="25"/>
<rect x="286" y="1152" width="5" height="14"/>
<rect x="412" y="1152" width="5" height="25"/>
<rect x="539" y="1152" width="5" height="14"/>
<rect x="666" y="1152" width="5" height="25"/>
<rect x="793" y="1152" width="6" height="14"/>
<rect x="920" y="1152" width="6" height="25"/>
<rect x="1047" y="1152" width="6" height="14"/>
<rect x="1174" y="1152" width="6" height="25"/>
<rect x="1301" y="1152" width="6" height="14"/>
<rect x="1428" y="1152" width="6" height="25"/>
<rect x="1555" y="1152" width="6" height="14"/>
</g>
<text transform="translate(161.5,1233) scale(0.94,1)" x="0" y="0" font-size="49.5" text-anchor="middle">0</text>
<text transform="translate(414.5,1233) scale(0.94,1)" x="0" y="0" font-size="49.5" text-anchor="middle">20</text>
<text transform="translate(668.5,1233) scale(0.94,1)" x="0" y="0" font-size="49.5" text-anchor="middle">40</text>
<text transform="translate(923.0,1233) scale(0.94,1)" x="0" y="0" font-size="49.5" text-anchor="middle">60</text>
<text transform="translate(1177.0,1233) scale(0.94,1)" x="0" y="0" font-size="49.5" text-anchor="middle">80</text>
<text transform="translate(1431.0,1233) scale(0.94,1)" x="0" y="0" font-size="49.5" text-anchor="middle">100</text>
<text font-size="59" y="1313"><tspan x="790.5">2</tspan><tspan x="821.5" font-style="italic">θ</tspan><tspan x="848.5">/</tspan><tspan x="866">(</tspan><tspan x="884.6" dy="-2">°</tspan><tspan x="907.3" dy="2">)</tspan></text>
<text font-size="59.8" transform="translate(72.1,707.6) rotate(-90)" x="0" y="0">intensity/cps</text>
<text font-size="58" y="243.2"><tspan x="285.4">a</tspan><tspan x="314.6" dy="-6.5">)</tspan></text>
<text font-size="58" transform="translate(285.6,649.2) scale(0.93,1)"><tspan x="0" y="0">b</tspan><tspan x="32.6" dy="-6.3">)</tspan></text>
<text class="sym" transform="translate(939.5,69.8) scale(1.0,1.0)" x="0" y="0" font-size="28.2" text-anchor="middle">●</text>
<text x="1014" y="76" font-size="47.5"><tspan>Fe-Cr-Ni</tspan></text>
<text class="sym" transform="translate(941.5,134.9) scale(1.0,1.12)" x="0" y="0" font-size="35.6" text-anchor="middle">☆</text>
<text x="1009.5" y="135" font-size="48"><tspan>NiCr</tspan><tspan font-size="32" dy="12">2</tspan><tspan dy="-12">O</tspan><tspan font-size="32" dy="12">4</tspan></text>
<text class="sym" transform="translate(939.0,206.6) scale(1.0,1.32)" x="0" y="0" font-size="31.3" text-anchor="middle">□</text>
<text x="1004" y="211.5" font-size="48"><tspan>Al</tspan><tspan font-size="32" dy="12">1.4</tspan><tspan dy="-12">Si</tspan><tspan font-size="32" dy="12">0.3</tspan><tspan dy="-12">O</tspan><tspan font-size="32" dy="12">2.7</tspan></text>
<text class="sym" transform="translate(939.5,513.6) scale(1.0,1.0)" x="0" y="0" font-size="28.2" text-anchor="middle">○</text>
<text x="1002.5" y="520.3" font-size="48"><tspan>FeCr</tspan><tspan font-size="32" dy="12">2</tspan><tspan dy="-12">O</tspan><tspan font-size="32" dy="12">4</tspan></text>
<text class="sym" transform="translate(942.6,596.9) scale(1.093,1.0)" x="0" y="0" font-size="37" text-anchor="middle">♣</text>
<text x="1009.5" y="596.5" font-size="48"><tspan>Fe</tspan><tspan font-size="32" dy="12">2</tspan><tspan dy="-12">O</tspan><tspan font-size="32" dy="12">3</tspan></text>
<text class="sym" transform="translate(942.7,673.9) scale(1.15,1.0)" x="0" y="0" font-size="38.2" text-anchor="middle">♠</text>
<text x="1009.2" y="672.4" font-size="48"><tspan>Cr</tspan><tspan font-size="32" dy="12">2</tspan><tspan dy="-12">O</tspan><tspan font-size="32" dy="12">3</tspan></text>
<circle cx="542.3" cy="300.1" r="20.5" fill="none" stroke="#000" stroke-width="3"/>
<circle cx="607" cy="165.8" r="20.5" fill="none" stroke="#000" stroke-width="3"/>
<circle cx="833.4" cy="379.6" r="20.5" fill="none" stroke="#000" stroke-width="3"/>
<circle cx="900.2" cy="342.8" r="20.5" fill="none" stroke="#000" stroke-width="3"/>
<circle cx="960.1" cy="342.0" r="20.5" fill="none" stroke="#000" stroke-width="3"/>
<circle cx="541.2" cy="889.7" r="20.5" fill="none" stroke="#000" stroke-width="3"/>
<circle cx="608.5" cy="810.7" r="20.5" fill="none" stroke="#000" stroke-width="3"/>
<circle cx="638" cy="959.9" r="20.5" fill="none" stroke="#000" stroke-width="3"/>
<circle cx="704.2" cy="997.7" r="20.5" fill="none" stroke="#000" stroke-width="3"/>
<circle cx="950" cy="988.9" r="20.5" fill="none" stroke="#000" stroke-width="3"/>
<circle cx="970.9" cy="1052.8" r="16.8" fill="none" stroke="#000" stroke-width="2.4"/>
<path d="M395.30,273.48 L401.45,293.22 L421.36,293.23 L405.25,305.43 L411.41,325.18 L395.30,312.97 L379.19,325.18 L385.35,305.43 L369.24,293.23 L389.15,293.22Z M395.30,279.03 L400.24,294.87 L416.45,294.88 L403.33,304.81 L408.30,320.75 L395.30,310.90 L382.30,320.75 L387.27,304.81 L374.15,294.88 L390.36,294.87Z" fill="#000" fill-rule="evenodd"/>
<path d="M539.40,221.78 L545.55,241.52 L565.46,241.53 L549.35,253.73 L555.51,273.48 L539.40,261.27 L523.29,273.48 L529.45,253.73 L513.34,241.53 L533.25,241.52Z M539.40,227.33 L544.34,243.17 L560.55,243.18 L547.43,253.11 L552.40,269.05 L539.40,259.20 L526.40,269.05 L531.37,253.11 L518.25,243.18 L534.46,243.17Z" fill="#000" fill-rule="evenodd"/>
<path d="M603.50,69.38 L609.65,89.12 L629.56,89.13 L613.45,101.33 L619.61,121.08 L603.50,108.87 L587.39,121.08 L593.55,101.33 L577.44,89.13 L597.35,89.12Z M603.50,74.93 L608.44,90.77 L624.65,90.78 L611.53,100.71 L616.50,116.65 L603.50,106.80 L590.50,116.65 L595.47,100.71 L582.35,90.78 L598.56,90.77Z" fill="#000" fill-rule="evenodd"/>
<path d="M636.50,243.38 L642.65,263.12 L662.56,263.13 L646.45,275.33 L652.61,295.08 L636.50,282.87 L620.39,295.08 L626.55,275.33 L610.44,263.13 L630.35,263.12Z M636.50,248.93 L641.44,264.77 L657.65,264.78 L644.53,274.71 L649.50,290.65 L636.50,280.80 L623.50,290.65 L628.47,274.71 L615.35,264.78 L631.56,264.77Z" fill="#000" fill-rule="evenodd"/>
<path d="M706.50,280.88 L712.65,300.62 L732.56,300.63 L716.45,312.83 L722.61,332.58 L706.50,320.37 L690.39,332.58 L696.55,312.83 L680.44,300.63 L700.35,300.62Z M706.50,286.43 L711.44,302.27 L727.65,302.28 L714.53,312.21 L719.50,328.15 L706.50,318.30 L693.50,328.15 L698.47,312.21 L685.35,302.28 L701.56,302.27Z" fill="#000" fill-rule="evenodd"/>
<path d="M856.20,269.48 L862.35,289.22 L882.26,289.23 L866.15,301.43 L872.31,321.18 L856.20,308.97 L840.09,321.18 L846.25,301.43 L830.14,289.23 L850.05,289.22Z M856.20,275.03 L861.14,290.87 L877.35,290.88 L864.23,300.81 L869.20,316.75 L856.20,306.90 L843.20,316.75 L848.17,300.81 L835.05,290.88 L851.26,290.87Z" fill="#000" fill-rule="evenodd"/>
<path d="M897.40,260.38 L903.55,280.12 L923.46,280.13 L907.35,292.33 L913.51,312.08 L897.40,299.87 L881.29,312.08 L887.45,292.33 L871.34,280.13 L891.25,280.12Z M897.40,265.93 L902.34,281.77 L918.55,281.78 L905.43,291.71 L910.40,307.65 L897.40,297.80 L884.40,307.65 L889.37,291.71 L876.25,281.78 L892.46,281.77Z" fill="#000" fill-rule="evenodd"/>
<path d="M1206.30,283.48 L1212.45,303.22 L1232.36,303.23 L1216.25,315.43 L1222.41,335.18 L1206.30,322.97 L1190.19,335.18 L1196.35,315.43 L1180.24,303.23 L1200.15,303.22Z M1206.30,289.03 L1211.24,304.87 L1227.45,304.88 L1214.33,314.81 L1219.30,330.75 L1206.30,320.90 L1193.30,330.75 L1198.27,314.81 L1185.15,304.88 L1201.36,304.87Z" fill="#000" fill-rule="evenodd"/>
<path d="M394.60,984.68 L400.75,1004.42 L420.66,1004.43 L404.55,1016.63 L410.71,1036.38 L394.60,1024.17 L378.49,1036.38 L384.65,1016.63 L368.54,1004.43 L388.45,1004.42Z M394.60,990.23 L399.54,1006.07 L415.75,1006.08 L402.63,1016.01 L407.60,1031.95 L394.60,1022.10 L381.60,1031.95 L386.57,1016.01 L373.45,1006.08 L389.66,1006.07Z" fill="#000" fill-rule="evenodd"/>
<path d="M545.50,911.48 L551.65,931.22 L571.56,931.23 L555.45,943.43 L561.61,963.18 L545.50,950.97 L529.39,963.18 L535.55,943.43 L519.44,931.23 L539.35,931.22Z M545.50,917.03 L550.44,932.87 L566.65,932.88 L553.53,942.81 L558.50,958.75 L545.50,948.90 L532.50,958.75 L537.47,942.81 L524.35,932.88 L540.56,932.87Z" fill="#000" fill-rule="evenodd"/>
<path d="M639.70,885.18 L645.85,904.92 L665.76,904.93 L649.65,917.13 L655.81,936.88 L639.70,924.67 L623.59,936.88 L629.75,917.13 L613.64,904.93 L633.55,904.92Z M639.70,890.73 L644.64,906.57 L660.85,906.58 L647.73,916.51 L652.70,932.45 L639.70,922.60 L626.70,932.45 L631.67,916.51 L618.55,906.58 L634.76,906.57Z" fill="#000" fill-rule="evenodd"/>
<path d="M705.40,923.08 L711.55,942.82 L731.46,942.83 L715.35,955.03 L721.51,974.78 L705.40,962.57 L689.29,974.78 L695.45,955.03 L679.34,942.83 L699.25,942.82Z M705.40,928.63 L710.34,944.47 L726.55,944.48 L713.43,954.41 L718.40,970.35 L705.40,960.50 L692.40,970.35 L697.37,954.41 L684.25,944.48 L700.46,944.47Z" fill="#000" fill-rule="evenodd"/>
<path d="M887.30,989.58 L893.45,1009.32 L913.36,1009.33 L897.25,1021.53 L903.41,1041.28 L887.30,1029.07 L871.19,1041.28 L877.35,1021.53 L861.24,1009.33 L881.15,1009.32Z M887.30,995.13 L892.24,1010.97 L908.45,1010.98 L895.33,1020.91 L900.30,1036.85 L887.30,1027.00 L874.30,1036.85 L879.27,1020.91 L866.15,1010.98 L882.36,1010.97Z" fill="#000" fill-rule="evenodd"/>
<path d="M972.70,1001.48 L977.68,1017.47 L993.81,1017.47 L980.76,1027.36 L985.75,1043.35 L972.70,1033.47 L959.65,1043.35 L964.64,1027.36 L951.59,1017.47 L967.72,1017.47Z M972.70,1007.19 L976.43,1019.17 L988.75,1019.17 L978.79,1026.72 L982.55,1038.80 L972.70,1031.34 L962.85,1038.80 L966.61,1026.72 L956.65,1019.17 L968.97,1019.17Z" fill="#000" fill-rule="evenodd"/>
<circle cx="730.3" cy="227.3" r="22" fill="#000"/>
<circle cx="1007" cy="367.2" r="22" fill="#000"/>
<circle cx="1206.2" cy="363.0" r="22" fill="#000"/>
<circle cx="727" cy="497" r="22" fill="#000"/>
<circle cx="1208" cy="961.9" r="22" fill="#000"/>
<circle cx="1415" cy="1028.9" r="22" fill="#000"/>
<rect x="460.6" y="945.4" width="27.9" height="36.2" fill="none" stroke="#000" stroke-width="1"/>
<rect x="987.6" y="968.7" width="28.0" height="35.6" fill="none" stroke="#000" stroke-width="1"/>
<text class="sym" transform="translate(472.5,348.0) scale(1.16,1.09)" x="0" y="0" font-size="42" text-anchor="middle">♣</text>
<text class="sym" transform="translate(590.5,350.5) scale(1.16,1.09)" x="0" y="0" font-size="42" text-anchor="middle">♣</text>
<text class="sym" transform="translate(627.6,339.0) scale(1.16,1.09)" x="0" y="0" font-size="42" text-anchor="middle">♣</text>
<text class="sym" transform="translate(685.5,404.7) scale(1.16,1.09)" x="0" y="0" font-size="42" text-anchor="middle">♣</text>
<text class="sym" transform="translate(704.5,370.8) scale(1.16,1.09)" x="0" y="0" font-size="42" text-anchor="middle">♣</text>
<text class="sym" transform="translate(802.4,404.9) scale(1.16,1.09)" x="0" y="0" font-size="42" text-anchor="middle">♣</text>
<text class="sym" transform="translate(855.5,359.1) scale(1.16,1.09)" x="0" y="0" font-size="42" text-anchor="middle">♣</text>
<text class="sym" transform="translate(473.5,944.0) scale(1.19,1.125)" x="0" y="0" font-size="42" text-anchor="middle">♠</text>
<text class="sym" transform="translate(586.6,978.5) scale(1.19,1.125)" x="0" y="0" font-size="42" text-anchor="middle">♠</text>
<text class="sym" transform="translate(795.7,1045.5) scale(1.19,1.125)" x="0" y="0" font-size="42" text-anchor="middle">♠</text>
<text class="sym" transform="translate(852.6,1020.7) scale(1.19,1.125)" x="0" y="0" font-size="42" text-anchor="middle">♠</text>
</svg></body></html>
